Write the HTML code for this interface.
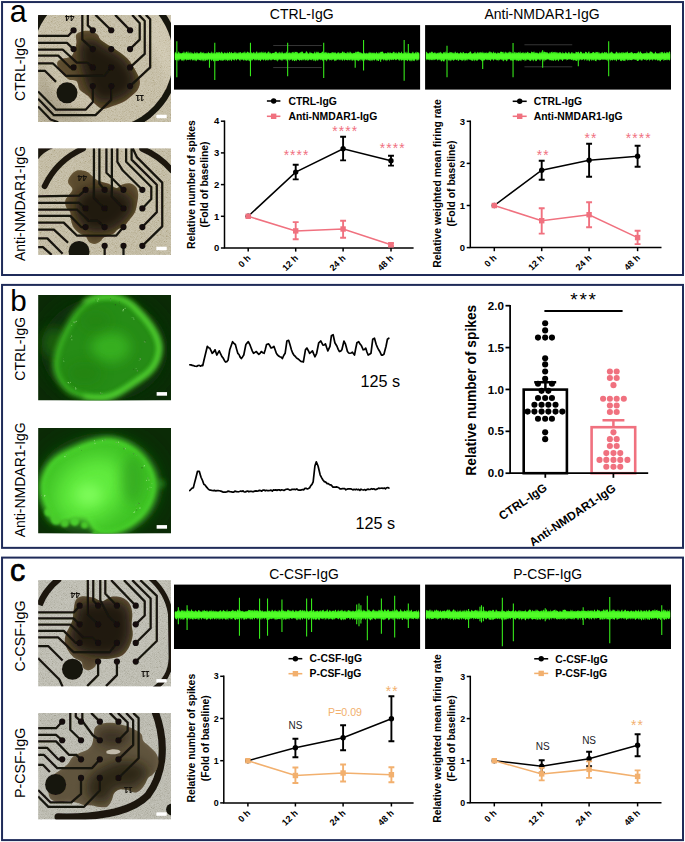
<!DOCTYPE html>
<html><head><meta charset="utf-8"><title>figure</title>
<style>
html,body{margin:0;padding:0;background:#fff;}
body{width:685px;height:842px;overflow:hidden;position:relative;font-family:"Liberation Sans",sans-serif;}
svg{position:absolute;left:0;top:0;display:block}
text{font-family:"Liberation Sans",sans-serif;}
.b{font-weight:bold}
</style></head><body>
<svg width="685" height="842" viewBox="0 0 685 842">
<defs>
<filter id="bl1" x="-20%" y="-20%" width="140%" height="140%"><feGaussianBlur stdDeviation="1"/></filter>
<filter id="bl2" x="-20%" y="-20%" width="140%" height="140%"><feGaussianBlur stdDeviation="2"/></filter>
<filter id="bl3" x="-20%" y="-20%" width="140%" height="140%"><feGaussianBlur stdDeviation="3.2"/></filter>
<filter id="bl5" x="-30%" y="-30%" width="160%" height="160%"><feGaussianBlur stdDeviation="6"/></filter>
<filter id="bl05" x="-10%" y="-10%" width="120%" height="120%"><feGaussianBlur stdDeviation="0.45"/></filter>
<filter id="zb5" x="-20%" y="-20%" width="140%" height="140%"><feGaussianBlur stdDeviation="3.2"/></filter>
<filter id="zb12" x="-30%" y="-30%" width="160%" height="160%"><feGaussianBlur stdDeviation="12"/></filter>
<filter id="zb28" x="-50%" y="-50%" width="200%" height="200%"><feGaussianBlur stdDeviation="24"/></filter>
<filter id="grain" x="0" y="0" width="100%" height="100%"><feTurbulence type="fractalNoise" baseFrequency="1.2" numOctaves="2" seed="7" result="n"/><feColorMatrix in="n" type="matrix" values="1.8 0 0 0 -0.4  1.8 0 0 0 -0.4  1.8 0 0 0 -0.4  0 0 0 0 1"/></filter>
<filter id="grain2" x="0" y="0" width="100%" height="100%"><feTurbulence type="fractalNoise" baseFrequency="0.22" numOctaves="3" seed="4" result="n"/><feColorMatrix in="n" type="matrix" values="2.2 0 0 0 -0.6  2.2 0 0 0 -0.6  2.2 0 0 0 -0.6  0 0 0 0 1"/></filter>
</defs>
<rect x="2.05" y="2.05" width="680.95" height="272.95" fill="#fff" stroke="#1f2b59" stroke-width="2"/>
<rect x="2.05" y="284.9" width="680.95" height="262.95" fill="#fff" stroke="#1f2b59" stroke-width="2"/>
<rect x="2.05" y="557.6" width="680.95" height="282.5" fill="#fff" stroke="#1f2b59" stroke-width="2"/>
<g id="pa">
<text x="9.7" y="22" font-size="30.5" text-anchor="start" fill="#000">a</text>
<text x="25.1" y="69" font-size="14" text-anchor="middle" fill="#000" transform="rotate(-90 25.1 69)">CTRL-IgG</text>
<text x="25.1" y="203.5" font-size="14" text-anchor="middle" fill="#000" transform="rotate(-90 25.1 203.5)">Anti-NMDAR1-IgG</text>
<text x="301.7" y="19.2" font-size="14" text-anchor="middle" fill="#000">CTRL-IgG</text>
<text x="542" y="19.2" font-size="14" text-anchor="middle" fill="#000">Anti-NMDAR1-IgG</text>
<g transform="translate(38.1 14.9)">
<clipPath id="cp1"><rect x="0" y="0" width="132.9" height="107.2"/></clipPath>
<g clip-path="url(#cp1)">
<rect x="0" y="0" width="132.9" height="107.2" fill="#bfb79d"/>
<rect x="0" y="0" width="132.9" height="107.2" filter="url(#grain)" opacity="0.24" style="mix-blend-mode:overlay"/>
<path d="M133 0 L90 0 Q120 30 133 80Z" fill="#ece6d2" opacity="0.25" filter="url(#bl3)"/>
<path d="M0 107 L0 40 Q10 90 60 107Z" fill="#6a6048" opacity="0.3" filter="url(#bl5)"/>
<path d="M99.3 -21.8 A73.4 73.4 0 0 1 80.1 114.8 M-5.0 20.3 A73.4 73.4 0 0 1 42.1 -26.8" fill="none" stroke="#17140e" stroke-width="6.2" filter="url(#bl05)"/>
<path d="M0 0 H6 L0 7Z" fill="#17140e"/>
<g transform="scale(0.21896) translate(-38 -22)">
<clipPath id="bc1"><path d="M213.47 110.67 C221.25 101.8 244.59 95.11 260.14 94.8 C275.7 94.49 295.61 101.49 306.81 108.8 C318.01 116.12 311.79 125.92 327.35 138.67 C342.9 151.43 380.24 171.34 400.15 185.34 C420.06 199.34 432.82 207.12 446.82 222.68 C460.82 238.23 474.82 261.57 484.15 278.68 C493.49 295.79 501.26 311.35 502.82 325.35 C504.38 339.35 499.71 351.79 493.49 362.68 C487.26 373.57 476.37 381.35 465.49 390.68 C454.6 400.02 442.15 410.91 428.15 418.68 C414.15 426.46 397.04 431.91 381.48 437.35 C365.93 442.8 348.04 452.13 334.81 451.35 C321.59 450.57 312.26 441.24 302.14 432.68 C292.03 424.13 282.7 408.57 274.14 400.02 C265.59 391.46 258.59 387.57 250.81 381.35 C243.03 375.13 233.7 372.02 227.47 362.68 C221.25 353.35 222.03 333.12 213.47 325.35 C204.92 317.57 188.58 323.79 176.14 316.01 C163.69 308.23 147.36 291.12 138.8 278.68 C130.25 266.23 123.25 250.68 124.8 241.34 C126.36 232.01 138.03 227.34 148.14 222.68 C158.25 218.01 176.14 219.56 185.47 213.34 C194.81 207.12 199.47 196.23 204.14 185.34 C208.81 174.45 211.92 160.45 213.47 148.01 C215.03 135.56 205.7 119.54 213.47 110.67 Z"/></clipPath>
<path d="M213.47 110.67 C221.25 101.8 244.59 95.11 260.14 94.8 C275.7 94.49 295.61 101.49 306.81 108.8 C318.01 116.12 311.79 125.92 327.35 138.67 C342.9 151.43 380.24 171.34 400.15 185.34 C420.06 199.34 432.82 207.12 446.82 222.68 C460.82 238.23 474.82 261.57 484.15 278.68 C493.49 295.79 501.26 311.35 502.82 325.35 C504.38 339.35 499.71 351.79 493.49 362.68 C487.26 373.57 476.37 381.35 465.49 390.68 C454.6 400.02 442.15 410.91 428.15 418.68 C414.15 426.46 397.04 431.91 381.48 437.35 C365.93 442.8 348.04 452.13 334.81 451.35 C321.59 450.57 312.26 441.24 302.14 432.68 C292.03 424.13 282.7 408.57 274.14 400.02 C265.59 391.46 258.59 387.57 250.81 381.35 C243.03 375.13 233.7 372.02 227.47 362.68 C221.25 353.35 222.03 333.12 213.47 325.35 C204.92 317.57 188.58 323.79 176.14 316.01 C163.69 308.23 147.36 291.12 138.8 278.68 C130.25 266.23 123.25 250.68 124.8 241.34 C126.36 232.01 138.03 227.34 148.14 222.68 C158.25 218.01 176.14 219.56 185.47 213.34 C194.81 207.12 199.47 196.23 204.14 185.34 C208.81 174.45 211.92 160.45 213.47 148.01 C215.03 135.56 205.7 119.54 213.47 110.67 Z" fill="#6b5836" opacity="0.92" filter="url(#zb5)"/>
<g clip-path="url(#bc1)"><path d="M213.47 110.67 C221.25 101.8 244.59 95.11 260.14 94.8 C275.7 94.49 295.61 101.49 306.81 108.8 C318.01 116.12 311.79 125.92 327.35 138.67 C342.9 151.43 380.24 171.34 400.15 185.34 C420.06 199.34 432.82 207.12 446.82 222.68 C460.82 238.23 474.82 261.57 484.15 278.68 C493.49 295.79 501.26 311.35 502.82 325.35 C504.38 339.35 499.71 351.79 493.49 362.68 C487.26 373.57 476.37 381.35 465.49 390.68 C454.6 400.02 442.15 410.91 428.15 418.68 C414.15 426.46 397.04 431.91 381.48 437.35 C365.93 442.8 348.04 452.13 334.81 451.35 C321.59 450.57 312.26 441.24 302.14 432.68 C292.03 424.13 282.7 408.57 274.14 400.02 C265.59 391.46 258.59 387.57 250.81 381.35 C243.03 375.13 233.7 372.02 227.47 362.68 C221.25 353.35 222.03 333.12 213.47 325.35 C204.92 317.57 188.58 323.79 176.14 316.01 C163.69 308.23 147.36 291.12 138.8 278.68 C130.25 266.23 123.25 250.68 124.8 241.34 C126.36 232.01 138.03 227.34 148.14 222.68 C158.25 218.01 176.14 219.56 185.47 213.34 C194.81 207.12 199.47 196.23 204.14 185.34 C208.81 174.45 211.92 160.45 213.47 148.01 C215.03 135.56 205.7 119.54 213.47 110.67 Z" fill="#4a3a22" opacity="0.55" filter="url(#zb12)"/></g>
<g clip-path="url(#bc1)"><path d="M241.48 138.67 C253.14 129.34 280.37 133.23 297.48 138.67 C314.59 144.12 325.48 159.67 344.15 171.34 C362.81 183.01 390.82 193.9 409.48 208.67 C428.15 223.45 444.48 242.12 456.15 260.01 C467.82 277.9 477.93 298.12 479.49 316.01 C481.04 333.9 475.6 353.35 465.49 367.35 C455.37 381.35 435.93 391.46 418.82 400.02 C401.7 408.57 379.93 415.57 362.81 418.68 C345.7 421.8 329.37 424.91 316.15 418.68 C302.92 412.46 292.81 393.79 283.48 381.35 C274.14 368.9 266.37 358.01 260.14 344.01 C253.92 330.01 250.81 312.9 246.14 297.35 C241.48 281.79 235.25 267.79 232.14 250.68 C229.03 233.56 225.92 213.34 227.47 194.67 C229.03 176.01 229.81 148.01 241.48 138.67 Z" fill="#1f170c" opacity="0.92" filter="url(#zb28)"/></g>
</g>
<path d="M35.47 15.33 L30 21.02 L0 21.02 M35.47 34.16 L28.9 28.03 L0 28.03 M54.74 52.55 L49.05 47.73 L38.76 47.73 L24.52 34.6 L0 34.6 M35.47 52.55 L32.19 52.55 L20.14 40.73 L0 40.73 M73.13 52.55 L66.13 60.87 L27.81 60.87 L14.67 48.39 L0 48.39 M0 56.05 L7.01 56.05 L17.95 67 M0 76.64 L17.95 94.81 L47.51 94.81 L54.74 87.15 L54.74 71.16 M0 83.86 L15.77 100.28 L57.37 100.28 L73.13 84.96 L73.13 71.16 M0 91.53 L12.48 104.66 L20.14 107.29 M54.74 34.16 L44.23 24.74 L44.23 0 M54.74 15.33 L49.7 10.51 L49.7 0 M73.13 15.33 L57.37 0 M91.96 15.33 L77.07 0 M91.96 34.16 L101.6 24.74 L101.6 8.32 L94.15 0 M91.96 52.55 L106.63 38.98 L106.63 6.13 L100.72 0 M91.96 71.16 L112.11 52.55 L112.11 4.38 L107.73 0 " fill="none" stroke="#17130d" stroke-width="2.25" stroke-linejoin="round" filter="url(#bl05)"/>
<circle cx="35.47" cy="15.33" r="3.1" fill="#120f0b" filter="url(#bl05)"/>
<circle cx="54.74" cy="15.33" r="3.1" fill="#120f0b" filter="url(#bl05)"/>
<circle cx="73.13" cy="15.33" r="3.1" fill="#120f0b" filter="url(#bl05)"/>
<circle cx="91.96" cy="15.33" r="3.1" fill="#120f0b" filter="url(#bl05)"/>
<circle cx="35.47" cy="34.16" r="3.1" fill="#120f0b" filter="url(#bl05)"/>
<circle cx="54.74" cy="34.16" r="3.1" fill="#120f0b" filter="url(#bl05)"/>
<circle cx="73.13" cy="34.16" r="3.1" fill="#120f0b" filter="url(#bl05)"/>
<circle cx="91.96" cy="34.16" r="3.1" fill="#120f0b" filter="url(#bl05)"/>
<circle cx="35.47" cy="52.55" r="3.1" fill="#120f0b" filter="url(#bl05)"/>
<circle cx="54.74" cy="52.55" r="3.1" fill="#120f0b" filter="url(#bl05)"/>
<circle cx="73.13" cy="52.55" r="3.1" fill="#120f0b" filter="url(#bl05)"/>
<circle cx="91.96" cy="52.55" r="3.1" fill="#120f0b" filter="url(#bl05)"/>
<circle cx="54.74" cy="71.16" r="3.1" fill="#120f0b" filter="url(#bl05)"/>
<circle cx="73.13" cy="71.16" r="3.1" fill="#120f0b" filter="url(#bl05)"/>
<circle cx="91.96" cy="71.16" r="3.1" fill="#120f0b" filter="url(#bl05)"/>
<circle cx="28.9" cy="77.95" r="10.51" fill="#17130d" filter="url(#bl05)"/>
<text x="31.75" y="0" font-size="8.4" class="b" fill="#15120d" text-anchor="middle" transform="rotate(180 31.75 0)">44</text>
<text x="101.82" y="80.58" font-size="8.4" class="b" fill="#15120d" text-anchor="middle" transform="rotate(180 101.82 80.58)">11</text>
</g>
<rect x="118.24" y="99.85" width="10.4" height="3.5" fill="#fff"/>
</g>
<g transform="translate(38.1 148.2)">
<clipPath id="cp2"><rect x="0" y="0" width="132.9" height="106.7"/></clipPath>
<g clip-path="url(#cp2)">
<rect x="0" y="0" width="132.9" height="106.7" fill="#bdb59b"/>
<rect x="0" y="0" width="132.9" height="106.7" filter="url(#grain)" opacity="0.24" style="mix-blend-mode:overlay"/>
<path d="M6.5 38 A78 78 0 0 1 45 0.5 M104 0.5 A78 78 0 0 1 133.5 22" fill="none" stroke="#1a1610" stroke-width="5.8" stroke-linecap="round" filter="url(#bl05)"/>
<path d="M0 0 H15 Q6 3 0 11Z" fill="#1a1610" filter="url(#bl05)"/>
<g transform="scale(0.21896) translate(-38 -38)">
<clipPath id="bc2"><path d="M185 165 C191.67 155.83 202.5 143.33 215 140 C227.5 136.67 248.33 140.83 260 145 C271.67 149.17 276.67 158.33 285 165 C293.33 171.67 297.5 179.17 310 185 C322.5 190.83 345.83 194.17 360 200 C374.17 205.83 385 219.17 395 220 C405 220.83 410 208.67 420 205 C430 201.33 444.17 196.33 455 198 C465.83 199.67 478.33 206.33 485 215 C491.67 223.67 494.17 237.5 495 250 C495.83 262.5 492.5 276.67 490 290 C487.5 303.33 485.83 317.5 480 330 C474.17 342.5 463.33 354.17 455 365 C446.67 375.83 439.17 387.5 430 395 C420.83 402.5 408.33 404.17 400 410 C391.67 415.83 390 424.17 380 430 C370 435.83 350 439.17 340 445 C330 450.83 327.5 460 320 465 C312.5 470 303.33 475 295 475 C286.67 475 276.67 470.83 270 465 C263.33 459.17 262.5 446.67 255 440 C247.5 433.33 234.17 431.67 225 425 C215.83 418.33 206.17 410 200 400 C193.83 390 190.5 376.67 188 365 C185.5 353.33 188.83 340 185 330 C181.17 320 168.67 314.17 165 305 C161.33 295.83 160.5 284.17 163 275 C165.5 265.83 174.67 258.33 180 250 C185.33 241.67 195.83 234.17 195 225 C194.17 215.83 176.67 205 175 195 C173.33 185 178.33 174.17 185 165 Z"/></clipPath>
<path d="M185 165 C191.67 155.83 202.5 143.33 215 140 C227.5 136.67 248.33 140.83 260 145 C271.67 149.17 276.67 158.33 285 165 C293.33 171.67 297.5 179.17 310 185 C322.5 190.83 345.83 194.17 360 200 C374.17 205.83 385 219.17 395 220 C405 220.83 410 208.67 420 205 C430 201.33 444.17 196.33 455 198 C465.83 199.67 478.33 206.33 485 215 C491.67 223.67 494.17 237.5 495 250 C495.83 262.5 492.5 276.67 490 290 C487.5 303.33 485.83 317.5 480 330 C474.17 342.5 463.33 354.17 455 365 C446.67 375.83 439.17 387.5 430 395 C420.83 402.5 408.33 404.17 400 410 C391.67 415.83 390 424.17 380 430 C370 435.83 350 439.17 340 445 C330 450.83 327.5 460 320 465 C312.5 470 303.33 475 295 475 C286.67 475 276.67 470.83 270 465 C263.33 459.17 262.5 446.67 255 440 C247.5 433.33 234.17 431.67 225 425 C215.83 418.33 206.17 410 200 400 C193.83 390 190.5 376.67 188 365 C185.5 353.33 188.83 340 185 330 C181.17 320 168.67 314.17 165 305 C161.33 295.83 160.5 284.17 163 275 C165.5 265.83 174.67 258.33 180 250 C185.33 241.67 195.83 234.17 195 225 C194.17 215.83 176.67 205 175 195 C173.33 185 178.33 174.17 185 165 Z" fill="#6b5836" opacity="0.92" filter="url(#zb5)"/>
<g clip-path="url(#bc2)"><path d="M185 165 C191.67 155.83 202.5 143.33 215 140 C227.5 136.67 248.33 140.83 260 145 C271.67 149.17 276.67 158.33 285 165 C293.33 171.67 297.5 179.17 310 185 C322.5 190.83 345.83 194.17 360 200 C374.17 205.83 385 219.17 395 220 C405 220.83 410 208.67 420 205 C430 201.33 444.17 196.33 455 198 C465.83 199.67 478.33 206.33 485 215 C491.67 223.67 494.17 237.5 495 250 C495.83 262.5 492.5 276.67 490 290 C487.5 303.33 485.83 317.5 480 330 C474.17 342.5 463.33 354.17 455 365 C446.67 375.83 439.17 387.5 430 395 C420.83 402.5 408.33 404.17 400 410 C391.67 415.83 390 424.17 380 430 C370 435.83 350 439.17 340 445 C330 450.83 327.5 460 320 465 C312.5 470 303.33 475 295 475 C286.67 475 276.67 470.83 270 465 C263.33 459.17 262.5 446.67 255 440 C247.5 433.33 234.17 431.67 225 425 C215.83 418.33 206.17 410 200 400 C193.83 390 190.5 376.67 188 365 C185.5 353.33 188.83 340 185 330 C181.17 320 168.67 314.17 165 305 C161.33 295.83 160.5 284.17 163 275 C165.5 265.83 174.67 258.33 180 250 C185.33 241.67 195.83 234.17 195 225 C194.17 215.83 176.67 205 175 195 C173.33 185 178.33 174.17 185 165 Z" fill="#4a3a22" opacity="0.55" filter="url(#zb12)"/></g>
<g clip-path="url(#bc2)"><path d="M240 240 C254.17 231.67 278.33 222.5 300 220 C321.67 217.5 348.33 221.67 370 225 C391.67 228.33 413.33 230.83 430 240 C446.67 249.17 465 265 470 280 C475 295 468.33 313.33 460 330 C451.67 346.67 435 366.67 420 380 C405 393.33 388.33 403.33 370 410 C351.67 416.67 328.33 420 310 420 C291.67 420 274.17 418.33 260 410 C245.83 401.67 233.33 385 225 370 C216.67 355 211.67 336.67 210 320 C208.33 303.33 210 283.33 215 270 C220 256.67 225.83 248.33 240 240 Z" fill="#1f170c" opacity="0.92" filter="url(#zb28)"/></g>
</g>
<path d="M47.51 41.6 L40.95 47.51 L0 48.17 M47.51 60.21 L40.95 54.74 L0 54.74 M66.56 78.83 L59.56 72.7 L50.8 72.7 L38.76 61.31 L0 61.31 M47.51 78.83 L43.14 78.83 L32.19 67.66 L0 67.66 M85.4 78.83 L78.17 87.37 L38.76 87.37 L25.62 74.45 L0 74.45 M0 81.45 L15.77 81.45 L30 94.59 M0 90.21 L9.2 90.21 L24.52 105.54 M0 98.97 L4.82 98.97 L13.58 106.63 M66.56 97.66 L66.56 107.73 M85.4 97.66 L85.4 107.73 M66.56 60.21 L55.84 49.7 L55.84 0 M66.56 41.6 L61.31 35.47 L61.31 0 M85.4 41.6 L68.32 24.52 L68.32 0 M85.4 60.21 L73.79 48.61 L73.79 0 M104.23 41.6 L84.74 22.33 L79.26 13.58 L79.26 0 M104.23 60.21 L113.2 50.8 L113.2 38.76 L88.02 13.58 L88.02 0 M104.23 78.83 L118.68 63.94 L118.68 36.57 L93.5 11.39 L93.5 0 M104.23 97.66 L124.15 78.17 L124.15 34.38 L98.97 9.2 L94.59 0 " fill="none" stroke="#17130d" stroke-width="2.25" stroke-linejoin="round" filter="url(#bl05)"/>
<circle cx="47.51" cy="41.6" r="3.1" fill="#120f0b" filter="url(#bl05)"/>
<circle cx="66.56" cy="41.6" r="3.1" fill="#120f0b" filter="url(#bl05)"/>
<circle cx="85.4" cy="41.6" r="3.1" fill="#120f0b" filter="url(#bl05)"/>
<circle cx="104.23" cy="41.6" r="3.1" fill="#120f0b" filter="url(#bl05)"/>
<circle cx="47.51" cy="60.21" r="3.1" fill="#120f0b" filter="url(#bl05)"/>
<circle cx="66.56" cy="60.21" r="3.1" fill="#120f0b" filter="url(#bl05)"/>
<circle cx="85.4" cy="60.21" r="3.1" fill="#120f0b" filter="url(#bl05)"/>
<circle cx="104.23" cy="60.21" r="3.1" fill="#120f0b" filter="url(#bl05)"/>
<circle cx="47.51" cy="78.83" r="3.1" fill="#120f0b" filter="url(#bl05)"/>
<circle cx="66.56" cy="78.83" r="3.1" fill="#120f0b" filter="url(#bl05)"/>
<circle cx="85.4" cy="78.83" r="3.1" fill="#120f0b" filter="url(#bl05)"/>
<circle cx="104.23" cy="78.83" r="3.1" fill="#120f0b" filter="url(#bl05)"/>
<circle cx="66.56" cy="97.66" r="3.1" fill="#120f0b" filter="url(#bl05)"/>
<circle cx="85.4" cy="97.66" r="3.1" fill="#120f0b" filter="url(#bl05)"/>
<circle cx="104.23" cy="97.66" r="3.1" fill="#120f0b" filter="url(#bl05)"/>
<circle cx="40.95" cy="103.35" r="10.51" fill="#17130d" filter="url(#bl05)"/>
<text x="44.23" y="26.71" font-size="8.4" class="b" fill="#15120d" text-anchor="middle" transform="rotate(180 44.23 26.71)">44</text>
</g>
<rect x="118.24" y="98.53" width="10.4" height="3.5" fill="#fff"/>
</g>
<g>
<rect x="174" y="25.1" width="246.1" height="64.5" fill="#000"/>
<path d="M273.23 45.54 H321.8" stroke="#5a5a5a" stroke-width="0.6"/>
<path d="M273.23 67.55 H321.8" stroke="#5a5a5a" stroke-width="0.6"/>
<path d="M176.83 41.22 V77.27 M214.78 42.74 V79.93 M209.47 53.36 V67.79 M250.46 42.74 V76.13 M287.65 42.74 V76.13 M323.7 42.74 V78.03 M355.2 53.36 V67.79 M363.55 40.08 V70.44 M404.16 40.08 V80.69 M408.33 43.88 V59.44 M380.63 52.6 V61.71 M268.67 51.85 V60.2 " stroke="#36e81a" stroke-width="1.1" fill="none"/>
<path d="M174.8 52.9 L175.3 51.52 L175.8 52.77 L176.3 53.39 L176.8 52.45 L177.29 53.5 L177.79 53.5 L178.29 52.27 L178.79 51.31 L179.29 52.38 L179.79 53.43 L180.29 52.72 L180.79 53.39 L181.29 53.54 L181.79 52.93 L182.28 52.74 L182.78 52.79 L183.28 52.89 L183.78 51.26 L184.28 51.81 L184.78 53.19 L185.28 53.23 L185.78 52.05 L186.28 51.79 L186.78 51.4 L187.27 53.55 L187.77 51.57 L188.27 51.32 L188.77 53.51 L189.27 52.01 L189.77 53.5 L190.27 51.38 L190.77 53.47 L191.27 53.49 L191.77 51.95 L192.26 52.64 L192.76 53.39 L193.26 53.46 L193.76 53.47 L194.26 53.35 L194.76 51.35 L195.26 53.21 L195.76 53.36 L196.26 51.76 L196.76 53.49 L197.25 53.35 L197.75 52.03 L198.25 53.22 L198.75 53.5 L199.25 53.31 L199.75 53.08 L200.25 51.4 L200.75 52.6 L201.25 53.4 L201.74 51.58 L202.24 53.3 L202.74 52.13 L203.24 53.38 L203.74 51.67 L204.24 52.97 L204.74 53.54 L205.24 53.32 L205.74 53.29 L206.24 52.54 L206.73 53.41 L207.23 53.52 L207.73 52.64 L208.23 52.49 L208.73 51.54 L209.23 53.54 L209.73 52.92 L210.23 53.4 L210.73 52.61 L211.23 53.1 L211.72 51.32 L212.22 52.27 L212.72 53.45 L213.22 53.54 L213.72 52.25 L214.22 53.54 L214.72 52.83 L215.22 53.18 L215.72 53.51 L216.22 52.14 L216.71 52.14 L217.21 51.96 L217.71 53.12 L218.21 51.6 L218.71 52.98 L219.21 51.73 L219.71 52.46 L220.21 52.58 L220.71 53.51 L221.21 51.27 L221.7 52.16 L222.2 52.14 L222.7 52.93 L223.2 53.5 L223.7 53.54 L224.2 52.83 L224.7 52.25 L225.2 52.49 L225.7 53.29 L226.19 53.21 L226.69 53.37 L227.19 51.59 L227.69 52.93 L228.19 53.16 L228.69 53.37 L229.19 51.92 L229.69 51.67 L230.19 52.58 L230.69 53.45 L231.18 51.82 L231.68 52.21 L232.18 53.25 L232.68 52.91 L233.18 53.35 L233.68 52.46 L234.18 53.19 L234.68 51.31 L235.18 53.51 L235.68 51.7 L236.17 52.22 L236.67 53.2 L237.17 53.54 L237.67 52.9 L238.17 51.84 L238.67 53.45 L239.17 52.45 L239.67 52.45 L240.17 51.91 L240.67 52.29 L241.16 52.85 L241.66 53.55 L242.16 52.21 L242.66 53.26 L243.16 52.26 L243.66 52.49 L244.16 53.03 L244.66 51.58 L245.16 51.49 L245.66 53.46 L246.15 52.46 L246.65 53.07 L247.15 51.68 L247.65 51.45 L248.15 52.39 L248.65 52.18 L249.15 52.42 L249.65 53.35 L250.15 51.32 L250.64 52.7 L251.14 53.18 L251.64 51.76 L252.14 53.51 L252.64 52.66 L253.14 52.82 L253.64 51.91 L254.14 51.94 L254.64 53.15 L255.14 53.45 L255.63 52.75 L256.13 51.81 L256.63 51.44 L257.13 51.43 L257.63 53.34 L258.13 53.23 L258.63 52.42 L259.13 51.8 L259.63 53.19 L260.13 51.79 L260.62 53.36 L261.12 51.36 L261.62 52.6 L262.12 52.7 L262.62 52.52 L263.12 51.36 L263.62 53.02 L264.12 52.63 L264.62 52.27 L265.12 52.69 L265.61 51.4 L266.11 53.27 L266.61 53.46 L267.11 51.89 L267.61 52.85 L268.11 53.38 L268.61 51.52 L269.11 52 L269.61 53.38 L270.11 52.29 L270.6 53.11 L271.1 53.49 L271.6 53.47 L272.1 53.3 L272.6 52.71 L273.1 53.07 L273.6 52.72 L274.1 53.37 L274.6 52.43 L275.09 51.77 L275.59 51.75 L276.09 52.12 L276.59 51.6 L277.09 53.19 L277.59 53.35 L278.09 51.65 L278.59 53.31 L279.09 53.28 L279.59 51.83 L280.08 51.97 L280.58 53.01 L281.08 53.54 L281.58 52.3 L282.08 51.36 L282.58 52.78 L283.08 52.78 L283.58 53.39 L284.08 53.48 L284.58 52.66 L285.07 52.62 L285.57 53.39 L286.07 51.81 L286.57 51.51 L287.07 53.52 L287.57 52.88 L288.07 53.16 L288.57 52.75 L289.07 52.53 L289.57 52.25 L290.06 53.4 L290.56 52.13 L291.06 53.38 L291.56 52.76 L292.06 51.63 L292.56 52.23 L293.06 52.45 L293.56 52.53 L294.06 51.31 L294.56 53.28 L295.05 52.11 L295.55 51.89 L296.05 51.62 L296.55 52.26 L297.05 52.05 L297.55 52.18 L298.05 53.14 L298.55 53.55 L299.05 52.43 L299.54 53.33 L300.04 52.35 L300.54 52.37 L301.04 52.71 L301.54 51.25 L302.04 52.24 L302.54 51.32 L303.04 52.49 L303.54 53.29 L304.04 53.53 L304.53 53.07 L305.03 53.3 L305.53 52.66 L306.03 51.37 L306.53 51.27 L307.03 51.91 L307.53 52.54 L308.03 53.53 L308.53 53.43 L309.03 53.41 L309.52 52.5 L310.02 51.45 L310.52 52.72 L311.02 53.09 L311.52 52.38 L312.02 53.24 L312.52 53.22 L313.02 53.31 L313.52 53.43 L314.02 53.04 L314.51 52.1 L315.01 51.29 L315.51 53.51 L316.01 52.95 L316.51 51.35 L317.01 52.73 L317.51 52.18 L318.01 51.33 L318.51 52.52 L319.01 52.47 L319.5 53.37 L320 52.72 L320.5 52.92 L321 52.89 L321.5 52.58 L322 52.01 L322.5 51.26 L323 52.14 L323.5 53.48 L323.99 51.99 L324.49 53.1 L324.99 52.29 L325.49 52.55 L325.99 52.09 L326.49 53.3 L326.99 51.55 L327.49 53.53 L327.99 53.26 L328.49 52.47 L328.98 52.69 L329.48 53.5 L329.98 52.66 L330.48 53.07 L330.98 53.36 L331.48 52.11 L331.98 53.51 L332.48 51.91 L332.98 52.04 L333.48 52.96 L333.97 51.91 L334.47 52.38 L334.97 53.17 L335.47 52.11 L335.97 52.96 L336.47 53.49 L336.97 53.51 L337.47 52.63 L337.97 52.29 L338.47 52.02 L338.96 53.35 L339.46 53.51 L339.96 52.17 L340.46 53.24 L340.96 53.1 L341.46 53.09 L341.96 52.22 L342.46 51.54 L342.96 51.56 L343.46 51.93 L343.95 53.18 L344.45 51.48 L344.95 53.3 L345.45 53.09 L345.95 53.03 L346.45 53.38 L346.95 51.95 L347.45 51.82 L347.95 53.4 L348.44 51.67 L348.94 53.54 L349.44 52.68 L349.94 51.37 L350.44 51.92 L350.94 52.67 L351.44 53.5 L351.94 52.14 L352.44 53.5 L352.94 53.44 L353.43 52.4 L353.93 53.34 L354.43 52.74 L354.93 53.03 L355.43 51.36 L355.93 52.8 L356.43 52.19 L356.93 51.55 L357.43 51.85 L357.93 51.76 L358.42 51.83 L358.92 51.4 L359.42 52.73 L359.92 51.93 L360.42 52.97 L360.92 52.12 L361.42 53.07 L361.92 53.37 L362.42 53.23 L362.92 53.52 L363.41 53.48 L363.91 52.02 L364.41 53.52 L364.91 52.58 L365.41 53.54 L365.91 53.39 L366.41 53.32 L366.91 52.55 L367.41 53.39 L367.91 53.41 L368.4 53.19 L368.9 51.88 L369.4 53.28 L369.9 51.56 L370.4 52.67 L370.9 52.83 L371.4 53.53 L371.9 51.93 L372.4 52.72 L372.89 53.26 L373.39 52.37 L373.89 53.55 L374.39 53.08 L374.89 52.21 L375.39 53.43 L375.89 53.17 L376.39 51.71 L376.89 52.43 L377.39 53.27 L377.88 53.44 L378.38 53.55 L378.88 51.79 L379.38 53.51 L379.88 52.2 L380.38 52.84 L380.88 51.41 L381.38 51.75 L381.88 51.97 L382.38 51.55 L382.87 51.85 L383.37 52.68 L383.87 53.43 L384.37 53.19 L384.87 53.51 L385.37 52.87 L385.87 53.1 L386.37 53.48 L386.87 52.88 L387.37 51.84 L387.86 53.55 L388.36 52.22 L388.86 52.63 L389.36 53.55 L389.86 51.94 L390.36 52.49 L390.86 53.07 L391.36 53.22 L391.86 53.03 L392.36 53.29 L392.85 52.15 L393.35 51.45 L393.85 52.18 L394.35 51.85 L394.85 53.45 L395.35 52.31 L395.85 53.4 L396.35 51.82 L396.85 53.5 L397.34 53.43 L397.84 53 L398.34 51.53 L398.84 52.76 L399.34 52.04 L399.84 53.05 L400.34 52.99 L400.84 53.02 L401.34 51.31 L401.84 52.36 L402.33 53.54 L402.83 53.13 L403.33 53.48 L403.83 52.77 L404.33 51.86 L404.83 53.43 L405.33 51.59 L405.83 53.11 L406.33 53.45 L406.83 51.3 L407.32 52.2 L407.82 53.38 L408.32 52.46 L408.82 53.5 L409.32 52.6 L409.82 53.16 L410.32 53.1 L410.82 53.47 L411.32 53.45 L411.82 52.68 L412.31 52.64 L412.81 51.57 L413.31 51.88 L413.81 53.47 L414.31 53.23 L414.81 53.31 L415.31 51.84 L415.81 52.67 L416.31 53.54 L416.81 51.3 L417.3 52.37 L417.8 52.33 L418.3 53.06 L418.8 51.93 L419.3 53.37 L419.3 59.93 L418.8 59.26 L418.3 60.25 L417.8 60.67 L417.3 59.6 L416.81 61.33 L416.31 59.4 L415.81 59.29 L415.31 59.41 L414.81 60.2 L414.31 61.18 L413.81 60.94 L413.31 60.27 L412.81 61.52 L412.31 59.53 L411.82 60.16 L411.32 61.21 L410.82 61.46 L410.32 59.92 L409.82 61.3 L409.32 60.54 L408.82 59.49 L408.32 59.42 L407.82 61.35 L407.32 60.98 L406.83 60.05 L406.33 60.59 L405.83 60.01 L405.33 60.13 L404.83 60.75 L404.33 60.3 L403.83 60.82 L403.33 59.74 L402.83 60.41 L402.33 59.64 L401.84 60.29 L401.34 60.83 L400.84 60.55 L400.34 59.25 L399.84 59.64 L399.34 60.93 L398.84 60.4 L398.34 59.84 L397.84 59.29 L397.34 59.33 L396.85 59.47 L396.35 60.25 L395.85 59.79 L395.35 60.58 L394.85 59.3 L394.35 59.3 L393.85 59.65 L393.35 60.17 L392.85 59.64 L392.36 59.43 L391.86 60.45 L391.36 59.66 L390.86 60.11 L390.36 59.57 L389.86 59.44 L389.36 61.52 L388.86 59.91 L388.36 59.48 L387.86 59.74 L387.37 60.42 L386.87 61.43 L386.37 59.77 L385.87 60.51 L385.37 60.6 L384.87 59.6 L384.37 59.61 L383.87 60.97 L383.37 60.07 L382.87 59.44 L382.38 59.3 L381.88 59.82 L381.38 59.59 L380.88 60.23 L380.38 59.94 L379.88 59.31 L379.38 59.53 L378.88 60.93 L378.38 60.93 L377.88 60.77 L377.39 60.1 L376.89 61.53 L376.39 60.05 L375.89 59.52 L375.39 59.37 L374.89 60.28 L374.39 60.85 L373.89 59.95 L373.39 59.48 L372.89 61.52 L372.4 60.05 L371.9 59.75 L371.4 61.36 L370.9 59.46 L370.4 61.4 L369.9 59.67 L369.4 61.15 L368.9 59.96 L368.4 60.13 L367.91 60.73 L367.41 59.55 L366.91 59.46 L366.41 60.6 L365.91 59.45 L365.41 59.32 L364.91 61.23 L364.41 59.91 L363.91 59.4 L363.41 60.4 L362.92 59.6 L362.42 61.44 L361.92 59.84 L361.42 59.38 L360.92 61.52 L360.42 59.36 L359.92 59.83 L359.42 60.58 L358.92 60.38 L358.42 61.16 L357.93 60.88 L357.43 60.45 L356.93 59.81 L356.43 60.58 L355.93 60.1 L355.43 60.47 L354.93 59.66 L354.43 60.75 L353.93 60.75 L353.43 59.5 L352.94 60.69 L352.44 60.36 L351.94 61.19 L351.44 59.29 L350.94 60.82 L350.44 59.28 L349.94 60.41 L349.44 60.18 L348.94 60.05 L348.44 59.55 L347.95 60.73 L347.45 60.17 L346.95 60.11 L346.45 60.17 L345.95 59.76 L345.45 59.71 L344.95 59.7 L344.45 61.18 L343.95 59.78 L343.46 59.6 L342.96 59.87 L342.46 61.33 L341.96 60.19 L341.46 59.33 L340.96 60.63 L340.46 59.35 L339.96 60.53 L339.46 59.59 L338.96 60.44 L338.47 59.29 L337.97 59.59 L337.47 59.97 L336.97 59.29 L336.47 61.11 L335.97 59.72 L335.47 61.27 L334.97 60.13 L334.47 61.51 L333.97 59.72 L333.48 59.52 L332.98 59.45 L332.48 60.33 L331.98 59.33 L331.48 60.99 L330.98 59.67 L330.48 59.96 L329.98 60.35 L329.48 60.48 L328.98 59.29 L328.49 59.31 L327.99 59.84 L327.49 59.28 L326.99 61.12 L326.49 61.48 L325.99 59.41 L325.49 60.36 L324.99 60.17 L324.49 59.54 L323.99 60.34 L323.5 61.17 L323 59.48 L322.5 61.38 L322 60.09 L321.5 59.82 L321 59.52 L320.5 60.46 L320 59.33 L319.5 59.27 L319.01 59.91 L318.51 59.32 L318.01 60.92 L317.51 59.94 L317.01 61.33 L316.51 59.49 L316.01 59.96 L315.51 61.21 L315.01 61.35 L314.51 59.27 L314.02 61.19 L313.52 60.72 L313.02 59.27 L312.52 59.25 L312.02 60.6 L311.52 60.16 L311.02 59.56 L310.52 60.26 L310.02 59.83 L309.52 59.28 L309.03 60 L308.53 59.94 L308.03 61.3 L307.53 60.73 L307.03 59.29 L306.53 60.37 L306.03 60.18 L305.53 60.03 L305.03 61.21 L304.53 59.31 L304.04 59.42 L303.54 59.79 L303.04 60.67 L302.54 59.26 L302.04 60.74 L301.54 60.38 L301.04 59.76 L300.54 60.19 L300.04 59.66 L299.54 61.35 L299.05 60.33 L298.55 59.69 L298.05 59.94 L297.55 59.29 L297.05 59.8 L296.55 60.76 L296.05 61.13 L295.55 59.79 L295.05 60.79 L294.56 61.23 L294.06 60.88 L293.56 60.02 L293.06 59.79 L292.56 61.06 L292.06 60.87 L291.56 59.25 L291.06 59.38 L290.56 59.79 L290.06 59.9 L289.57 61.01 L289.07 59.25 L288.57 59.85 L288.07 59.93 L287.57 60.75 L287.07 61.38 L286.57 59.31 L286.07 61.52 L285.57 59.43 L285.07 59.36 L284.58 60.05 L284.08 59.26 L283.58 59.29 L283.08 60.51 L282.58 60.73 L282.08 59.32 L281.58 61.23 L281.08 59.43 L280.58 60.51 L280.08 59.34 L279.59 59.83 L279.09 59.31 L278.59 60.63 L278.09 59.34 L277.59 61.55 L277.09 61.27 L276.59 59.62 L276.09 60.9 L275.59 59.48 L275.09 60.3 L274.6 60.08 L274.1 60.35 L273.6 59.37 L273.1 59.81 L272.6 59.86 L272.1 59.42 L271.6 60.04 L271.1 60.64 L270.6 60.32 L270.11 59.63 L269.61 59.47 L269.11 59.26 L268.61 59.34 L268.11 60.32 L267.61 59.62 L267.11 61.2 L266.61 59.86 L266.11 59.95 L265.61 61.28 L265.12 59.81 L264.62 59.28 L264.12 59.99 L263.62 60.86 L263.12 60.05 L262.62 59.26 L262.12 60.02 L261.62 59.43 L261.12 60.07 L260.62 61.03 L260.13 61.2 L259.63 59.74 L259.13 60.16 L258.63 60.07 L258.13 60.64 L257.63 60.08 L257.13 59.3 L256.63 59.99 L256.13 60.52 L255.63 60.62 L255.14 59.36 L254.64 60.82 L254.14 59.39 L253.64 59.28 L253.14 59.26 L252.64 60.76 L252.14 59.87 L251.64 59.68 L251.14 61.23 L250.64 60.83 L250.15 61.47 L249.65 61.2 L249.15 60.6 L248.65 60.92 L248.15 59.43 L247.65 59.92 L247.15 60.85 L246.65 60.18 L246.15 61.23 L245.66 59.9 L245.16 60.62 L244.66 59.3 L244.16 60.84 L243.66 60.72 L243.16 60.06 L242.66 59.67 L242.16 59.4 L241.66 59.94 L241.16 59.4 L240.67 59.43 L240.17 61.4 L239.67 60.42 L239.17 59.89 L238.67 59.27 L238.17 59.48 L237.67 59.26 L237.17 59.35 L236.67 60.83 L236.17 60.19 L235.68 59.27 L235.18 59.26 L234.68 59.9 L234.18 60.99 L233.68 60 L233.18 59.81 L232.68 59.54 L232.18 59.39 L231.68 61.37 L231.18 61.02 L230.69 60 L230.19 59.62 L229.69 59.75 L229.19 61.24 L228.69 59.85 L228.19 60.45 L227.69 61.17 L227.19 60.44 L226.69 59.39 L226.19 60.49 L225.7 59.25 L225.2 61.27 L224.7 60 L224.2 59.47 L223.7 60.27 L223.2 60.7 L222.7 60.99 L222.2 60.22 L221.7 59.76 L221.21 61.13 L220.71 60.38 L220.21 60.29 L219.71 59.75 L219.21 60.2 L218.71 60.83 L218.21 61.1 L217.71 60.51 L217.21 61.25 L216.71 60.56 L216.22 61.2 L215.72 60.13 L215.22 61.55 L214.72 60.64 L214.22 60.37 L213.72 61.42 L213.22 61.23 L212.72 59.26 L212.22 60.23 L211.72 60.43 L211.23 61.16 L210.73 59.34 L210.23 59.72 L209.73 59.28 L209.23 59.53 L208.73 59.43 L208.23 59.55 L207.73 61.03 L207.23 59.47 L206.73 60.61 L206.24 59.58 L205.74 60.94 L205.24 60.57 L204.74 61.42 L204.24 59.31 L203.74 60.28 L203.24 61.37 L202.74 61.34 L202.24 59.41 L201.74 60.92 L201.25 59.37 L200.75 61.08 L200.25 59.97 L199.75 59.9 L199.25 60.27 L198.75 60.22 L198.25 59.29 L197.75 59.64 L197.25 59.52 L196.76 61.51 L196.26 60.38 L195.76 59.77 L195.26 61.14 L194.76 60.87 L194.26 59.53 L193.76 59.83 L193.26 60.39 L192.76 60.65 L192.26 59.89 L191.77 59.4 L191.27 59.28 L190.77 59.5 L190.27 60.73 L189.77 59.65 L189.27 59.53 L188.77 60.35 L188.27 59.78 L187.77 59.94 L187.27 59.44 L186.78 61.02 L186.28 59.75 L185.78 59.78 L185.28 59.28 L184.78 59.47 L184.28 60.58 L183.78 61.54 L183.28 59.55 L182.78 60.44 L182.28 60.38 L181.79 61 L181.29 59.93 L180.79 59.49 L180.29 59.28 L179.79 59.25 L179.29 60.31 L178.79 61.42 L178.29 59.27 L177.79 60.89 L177.29 59.59 L176.8 60.84 L176.3 60.04 L175.8 60.23 L175.3 59.93 L174.8 60.16Z" fill="#3df41c"/>
<path d="M174.8 56.4 H419.3" stroke="#58ff2c" stroke-width="4.14" opacity="0.8"/>
</g>
<g>
<rect x="425.1" y="25.1" width="245.9" height="64.5" fill="#000"/>
<path d="M524.43 44.78 H572.25" stroke="#5a5a5a" stroke-width="0.6"/>
<path d="M524.43 66.79 H572.25" stroke="#5a5a5a" stroke-width="0.6"/>
<path d="M447.01 45.77 V77.27 M482.69 53.36 V68.92 M513.05 43.12 V77.27 M542.65 50.33 V67.79 M578.32 52.6 V66.27 M608.68 41.22 V76.13 M470.54 52.6 V59.44 M637.52 53.36 V60.95 " stroke="#36e81a" stroke-width="1.1" fill="none"/>
<path d="M425.9 51.52 L426.4 51.63 L426.9 52.55 L427.4 52.71 L427.9 53.38 L428.4 53.34 L428.9 53.54 L429.4 52.22 L429.9 52.76 L430.4 53.1 L430.9 51.99 L431.4 52.37 L431.9 51.35 L432.39 52.07 L432.89 52.61 L433.39 53.19 L433.89 52.85 L434.39 52.56 L434.89 52.42 L435.39 53.4 L435.89 51.89 L436.39 53.48 L436.89 53.54 L437.39 52.6 L437.89 53.16 L438.39 53.23 L438.89 52.01 L439.39 53.28 L439.89 51.99 L440.39 51.85 L440.89 52.68 L441.39 52.55 L441.89 53.42 L442.39 53.53 L442.89 53.54 L443.39 52.29 L443.89 51.92 L444.38 52.69 L444.88 52.1 L445.38 51.34 L445.88 53.38 L446.38 52.87 L446.88 51.49 L447.38 53.35 L447.88 52.72 L448.38 52.68 L448.88 53.29 L449.38 51.6 L449.88 53.13 L450.38 51.89 L450.88 52.28 L451.38 52.27 L451.88 52.42 L452.38 53.22 L452.88 52.03 L453.38 52.66 L453.88 53.48 L454.38 53.15 L454.88 51.82 L455.38 51.42 L455.88 52.63 L456.38 53.32 L456.87 52.86 L457.37 52.19 L457.87 53.06 L458.37 53.45 L458.87 53.37 L459.37 53.41 L459.87 52.97 L460.37 52.25 L460.87 52.28 L461.37 52.65 L461.87 53.22 L462.37 53.5 L462.87 51.73 L463.37 52.01 L463.87 52.52 L464.37 53.18 L464.87 53.21 L465.37 53.14 L465.87 52.97 L466.37 52.84 L466.87 53.29 L467.37 53.5 L467.87 53.28 L468.37 52.78 L468.86 52.88 L469.36 52.62 L469.86 51.75 L470.36 51.77 L470.86 51.31 L471.36 53.53 L471.86 53.26 L472.36 53.44 L472.86 53.5 L473.36 53.03 L473.86 53.23 L474.36 51.55 L474.86 53.41 L475.36 51.56 L475.86 53.54 L476.36 53.45 L476.86 52.86 L477.36 52.61 L477.86 51.87 L478.36 52.56 L478.86 53.46 L479.36 51.75 L479.86 52.96 L480.36 52.48 L480.86 51.74 L481.35 53.1 L481.85 52.11 L482.35 53.19 L482.85 51.32 L483.35 53.46 L483.85 52.02 L484.35 53.53 L484.85 52.18 L485.35 52.7 L485.85 53 L486.35 53.18 L486.85 51.86 L487.35 52.99 L487.85 53.19 L488.35 52.92 L488.85 51.87 L489.35 51.37 L489.85 52.47 L490.35 52.51 L490.85 51.32 L491.35 52.95 L491.85 51.81 L492.35 53.05 L492.85 53.54 L493.34 51.34 L493.84 52.22 L494.34 53.26 L494.84 52.53 L495.34 52.56 L495.84 52.68 L496.34 53.52 L496.84 53.44 L497.34 53.2 L497.84 52.1 L498.34 52.71 L498.84 53.12 L499.34 53.27 L499.84 52.81 L500.34 51.97 L500.84 51.38 L501.34 51.97 L501.84 51.6 L502.34 52.28 L502.84 52.34 L503.34 51.53 L503.84 53.48 L504.34 53.51 L504.84 51.95 L505.33 51.4 L505.83 52.76 L506.33 52.6 L506.83 52.4 L507.33 53.38 L507.83 52.15 L508.33 51.87 L508.83 53.35 L509.33 52.36 L509.83 51.34 L510.33 51.91 L510.83 52.61 L511.33 51.95 L511.83 53.45 L512.33 53.11 L512.83 52.76 L513.33 52.99 L513.83 53.51 L514.33 52.33 L514.83 51.83 L515.33 51.93 L515.83 53.45 L516.33 52.58 L516.83 52.49 L517.33 52.77 L517.82 52.73 L518.32 52.55 L518.82 51.94 L519.32 53.27 L519.82 51.86 L520.32 51.42 L520.82 53.46 L521.32 53.1 L521.82 52.79 L522.32 52.04 L522.82 53.3 L523.32 51.66 L523.82 53.43 L524.32 53.3 L524.82 52.55 L525.32 52.02 L525.82 53.43 L526.32 52.43 L526.82 52.91 L527.32 51.51 L527.82 52.13 L528.32 52.01 L528.82 53.5 L529.32 52.84 L529.81 53.01 L530.31 53.07 L530.81 53.41 L531.31 51.45 L531.81 51.75 L532.31 52.27 L532.81 52.15 L533.31 52.46 L533.81 51.44 L534.31 51.52 L534.81 53.22 L535.31 52.73 L535.81 52.43 L536.31 52.47 L536.81 53.02 L537.31 52.53 L537.81 53.14 L538.31 53.55 L538.81 53.21 L539.31 52.82 L539.81 51.51 L540.31 52.35 L540.81 53.26 L541.31 52.51 L541.81 51.3 L542.3 51.65 L542.8 53.5 L543.3 52.27 L543.8 51.51 L544.3 52.29 L544.8 51.31 L545.3 52.16 L545.8 52.15 L546.3 52.68 L546.8 51.77 L547.3 53.07 L547.8 51.97 L548.3 53.52 L548.8 53.47 L549.3 51.72 L549.8 53.49 L550.3 53.15 L550.8 52.1 L551.3 52.15 L551.8 51.77 L552.3 51.6 L552.8 53.24 L553.3 52.03 L553.8 52.16 L554.29 51.86 L554.79 52.42 L555.29 52.84 L555.79 51.56 L556.29 52.93 L556.79 51.65 L557.29 53.38 L557.79 51.68 L558.29 53.48 L558.79 52.57 L559.29 51.92 L559.79 52.73 L560.29 52.5 L560.79 51.97 L561.29 53.37 L561.79 53.55 L562.29 51.38 L562.79 53.4 L563.29 53.34 L563.79 52.43 L564.29 53.37 L564.79 53.4 L565.29 51.56 L565.79 52.69 L566.29 52.19 L566.78 53.08 L567.28 53.54 L567.78 53.17 L568.28 52.45 L568.78 51.72 L569.28 52.03 L569.78 53.5 L570.28 53.5 L570.78 53.45 L571.28 51.77 L571.78 52.8 L572.28 51.9 L572.78 53.53 L573.28 53.55 L573.78 52.46 L574.28 53.55 L574.78 53.19 L575.28 53.54 L575.78 51.4 L576.28 52.35 L576.78 51.8 L577.28 52.82 L577.78 51.96 L578.28 52.25 L578.77 51.34 L579.27 53.19 L579.77 53.34 L580.27 51.59 L580.77 51.71 L581.27 52.61 L581.77 51.6 L582.27 53.5 L582.77 53.34 L583.27 53.48 L583.77 52.62 L584.27 53.27 L584.77 53.49 L585.27 51.6 L585.77 51.92 L586.27 52.16 L586.77 52.11 L587.27 53.28 L587.77 53.14 L588.27 52 L588.77 51.6 L589.27 51.4 L589.77 53.43 L590.27 53.54 L590.77 52.7 L591.26 53.35 L591.76 52.89 L592.26 52.58 L592.76 52.19 L593.26 51.93 L593.76 51.89 L594.26 52.69 L594.76 52.89 L595.26 51.43 L595.76 53.14 L596.26 51.75 L596.76 52.31 L597.26 51.7 L597.76 52.62 L598.26 51.66 L598.76 53.37 L599.26 53.54 L599.76 51.99 L600.26 53.34 L600.76 53.38 L601.26 53.13 L601.76 52.27 L602.26 53.16 L602.76 51.46 L603.25 53.2 L603.75 53.19 L604.25 51.87 L604.75 52.19 L605.25 52.61 L605.75 52.52 L606.25 52.49 L606.75 51.99 L607.25 53 L607.75 53.4 L608.25 53.47 L608.75 53.5 L609.25 53.5 L609.75 52.47 L610.25 52.95 L610.75 52.16 L611.25 51.58 L611.75 51.9 L612.25 53.06 L612.75 52.06 L613.25 53.44 L613.75 53.18 L614.25 53.47 L614.75 53.45 L615.24 53.54 L615.74 52.46 L616.24 51.43 L616.74 52.1 L617.24 52.24 L617.74 53.26 L618.24 53.54 L618.74 52.56 L619.24 52.1 L619.74 53.25 L620.24 53.32 L620.74 52.81 L621.24 51.71 L621.74 53.1 L622.24 53.51 L622.74 51.66 L623.24 53.11 L623.74 52.07 L624.24 53.27 L624.74 52.38 L625.24 52.76 L625.74 52.19 L626.24 52.59 L626.74 52.48 L627.24 51.26 L627.73 51.97 L628.23 53.07 L628.73 53.32 L629.23 52.93 L629.73 52.77 L630.23 52.4 L630.73 52.73 L631.23 51.72 L631.73 52.36 L632.23 53.01 L632.73 52.31 L633.23 53.52 L633.73 53.53 L634.23 53.1 L634.73 52.89 L635.23 53.32 L635.73 53.23 L636.23 52.81 L636.73 53.52 L637.23 52.91 L637.73 52.44 L638.23 51.35 L638.73 51.86 L639.23 53.54 L639.72 51.97 L640.22 51.6 L640.72 51.47 L641.22 52.99 L641.72 52.7 L642.22 53.39 L642.72 53.44 L643.22 53.5 L643.72 53.22 L644.22 52.86 L644.72 53.54 L645.22 53.24 L645.72 52.69 L646.22 53.53 L646.72 51.35 L647.22 52.37 L647.72 53.3 L648.22 53.27 L648.72 52.9 L649.22 53.33 L649.72 52.03 L650.22 51.26 L650.72 51.77 L651.22 51.63 L651.72 51.7 L652.21 53.03 L652.71 52 L653.21 53.45 L653.71 53.41 L654.21 53.46 L654.71 53.21 L655.21 51.59 L655.71 52.06 L656.21 53.17 L656.71 53.32 L657.21 53.26 L657.71 53.53 L658.21 53.33 L658.71 53.54 L659.21 52.17 L659.71 53.45 L660.21 53.54 L660.71 51.88 L661.21 51.72 L661.71 52.46 L662.21 52.57 L662.71 51.76 L663.21 52.64 L663.71 53.52 L664.2 53.11 L664.7 51.3 L665.2 53.43 L665.7 52.83 L666.2 53.26 L666.7 51.45 L667.2 52.66 L667.7 52.09 L668.2 51.99 L668.7 53.44 L669.2 51.28 L669.7 51.59 L670.2 52.43 L670.2 59.77 L669.7 60.01 L669.2 61.01 L668.7 59.62 L668.2 59.97 L667.7 59.4 L667.2 60.53 L666.7 60.26 L666.2 59.54 L665.7 60.28 L665.2 60.12 L664.7 60.62 L664.2 59.73 L663.71 61.14 L663.21 59.28 L662.71 59.6 L662.21 59.74 L661.71 59.94 L661.21 59.72 L660.71 61.14 L660.21 61.29 L659.71 61.16 L659.21 59.92 L658.71 60.04 L658.21 60.74 L657.71 60.02 L657.21 61.29 L656.71 59.26 L656.21 59.81 L655.71 59.64 L655.21 60.41 L654.71 59.85 L654.21 59.29 L653.71 59.28 L653.21 59.8 L652.71 61.08 L652.21 59.67 L651.72 59.35 L651.22 59.9 L650.72 59.63 L650.22 59.64 L649.72 59.65 L649.22 61.49 L648.72 59.27 L648.22 59.54 L647.72 60.11 L647.22 60.23 L646.72 59.48 L646.22 61.3 L645.72 59.65 L645.22 59.47 L644.72 59.93 L644.22 59.67 L643.72 59.27 L643.22 59.26 L642.72 59.59 L642.22 60.81 L641.72 59.91 L641.22 60.96 L640.72 60.32 L640.22 59.29 L639.72 59.76 L639.23 59.42 L638.73 61 L638.23 60.49 L637.73 59.71 L637.23 61.18 L636.73 59.25 L636.23 60.75 L635.73 59.52 L635.23 59.89 L634.73 59.43 L634.23 59.74 L633.73 59.27 L633.23 59.46 L632.73 59.87 L632.23 59.84 L631.73 60.01 L631.23 60.42 L630.73 59.88 L630.23 60.05 L629.73 59.38 L629.23 60.59 L628.73 59.73 L628.23 60.24 L627.73 60.98 L627.24 59.67 L626.74 59.63 L626.24 59.42 L625.74 59.44 L625.24 61.3 L624.74 60.99 L624.24 60.49 L623.74 60.62 L623.24 60.95 L622.74 60.5 L622.24 59.81 L621.74 61.43 L621.24 60.45 L620.74 60.66 L620.24 61.03 L619.74 59.32 L619.24 59.48 L618.74 59.7 L618.24 60.37 L617.74 59.48 L617.24 59.26 L616.74 60.88 L616.24 61.53 L615.74 59.29 L615.24 60.57 L614.75 59.69 L614.25 60.7 L613.75 59.47 L613.25 59.83 L612.75 60.53 L612.25 60.55 L611.75 59.67 L611.25 60.19 L610.75 59.76 L610.25 61.55 L609.75 59.26 L609.25 59.58 L608.75 60.66 L608.25 60.52 L607.75 59.25 L607.25 61.5 L606.75 60.26 L606.25 59.79 L605.75 59.4 L605.25 60.02 L604.75 59.85 L604.25 59.4 L603.75 59.98 L603.25 59.54 L602.76 59.36 L602.26 60.17 L601.76 59.5 L601.26 59.62 L600.76 60.08 L600.26 60.16 L599.76 59.73 L599.26 60.71 L598.76 59.38 L598.26 60.33 L597.76 59.91 L597.26 59.26 L596.76 59.64 L596.26 61.41 L595.76 60.72 L595.26 61.18 L594.76 60.39 L594.26 59.29 L593.76 59.89 L593.26 60.74 L592.76 59.41 L592.26 60.15 L591.76 61.26 L591.26 59.7 L590.77 59.48 L590.27 59.42 L589.77 60.63 L589.27 61.45 L588.77 60.67 L588.27 59.37 L587.77 61.06 L587.27 59.38 L586.77 61.31 L586.27 59.28 L585.77 59.39 L585.27 59.26 L584.77 60.88 L584.27 59.76 L583.77 59.27 L583.27 59.3 L582.77 59.84 L582.27 60.04 L581.77 59.46 L581.27 60.53 L580.77 59.78 L580.27 59.27 L579.77 59.49 L579.27 60.82 L578.77 60.33 L578.28 59.61 L577.78 61 L577.28 59.3 L576.78 60.92 L576.28 60.98 L575.78 60.13 L575.28 60.72 L574.78 60.21 L574.28 59.79 L573.78 61.02 L573.28 60.02 L572.78 60.45 L572.28 59.27 L571.78 60.03 L571.28 60.08 L570.78 59.3 L570.28 59.5 L569.78 59.42 L569.28 59.34 L568.78 59.54 L568.28 59.29 L567.78 59.97 L567.28 59.81 L566.78 60.67 L566.29 59.25 L565.79 59.44 L565.29 59.27 L564.79 59.42 L564.29 59.3 L563.79 59.58 L563.29 59.49 L562.79 60.96 L562.29 61.08 L561.79 59.8 L561.29 59.76 L560.79 59.33 L560.29 59.86 L559.79 59.39 L559.29 59.51 L558.79 60.73 L558.29 61.52 L557.79 60.21 L557.29 59.26 L556.79 60.43 L556.29 59.47 L555.79 61.02 L555.29 60.63 L554.79 59.27 L554.29 60.11 L553.8 61 L553.3 60.81 L552.8 60.02 L552.3 60.69 L551.8 60.74 L551.3 60.32 L550.8 59.91 L550.3 60.19 L549.8 60.46 L549.3 59.69 L548.8 59.86 L548.3 59.32 L547.8 59.33 L547.3 59.61 L546.8 59.27 L546.3 60.24 L545.8 59.66 L545.3 60.69 L544.8 59.36 L544.3 61.48 L543.8 61.45 L543.3 59.51 L542.8 60.34 L542.3 59.5 L541.81 59.84 L541.31 59.47 L540.81 59.33 L540.31 61.02 L539.81 60.8 L539.31 59.68 L538.81 59.29 L538.31 59.65 L537.81 59.37 L537.31 59.79 L536.81 60.67 L536.31 61.36 L535.81 60.33 L535.31 61.38 L534.81 60.08 L534.31 59.36 L533.81 60.36 L533.31 61.42 L532.81 60.77 L532.31 59.32 L531.81 60.79 L531.31 59.26 L530.81 61.13 L530.31 60.65 L529.81 60.45 L529.32 60.84 L528.82 59.84 L528.32 59.66 L527.82 59.93 L527.32 59.53 L526.82 59.27 L526.32 60.73 L525.82 60.17 L525.32 60.66 L524.82 61.52 L524.32 59.26 L523.82 60.14 L523.32 59.91 L522.82 59.72 L522.32 59.31 L521.82 61.49 L521.32 59.43 L520.82 60.03 L520.32 61.25 L519.82 60.61 L519.32 60.27 L518.82 60.99 L518.32 61.31 L517.82 60.1 L517.33 60.89 L516.83 59.84 L516.33 61.46 L515.83 59.35 L515.33 60.85 L514.83 59.44 L514.33 60.3 L513.83 59.64 L513.33 61.04 L512.83 61.21 L512.33 60.22 L511.83 60.85 L511.33 60.37 L510.83 60.19 L510.33 60.73 L509.83 59.25 L509.33 59.35 L508.83 59.28 L508.33 59.39 L507.83 59.29 L507.33 60.66 L506.83 61.11 L506.33 61.52 L505.83 59.54 L505.33 60.36 L504.84 60.61 L504.34 59.29 L503.84 60.95 L503.34 61.44 L502.84 59.32 L502.34 61.36 L501.84 59.37 L501.34 60.19 L500.84 59.26 L500.34 59.58 L499.84 60.13 L499.34 59.56 L498.84 61.47 L498.34 59.42 L497.84 60.29 L497.34 60.32 L496.84 60.38 L496.34 59.95 L495.84 59.33 L495.34 60.05 L494.84 59.28 L494.34 59.39 L493.84 60.46 L493.34 60.67 L492.85 59.76 L492.35 59.28 L491.85 59.76 L491.35 59.28 L490.85 60.44 L490.35 61.26 L489.85 59.84 L489.35 60.1 L488.85 60.2 L488.35 59.39 L487.85 60.47 L487.35 59.5 L486.85 60.24 L486.35 59.84 L485.85 59.28 L485.35 59.44 L484.85 60.73 L484.35 59.77 L483.85 60.96 L483.35 59.74 L482.85 61.49 L482.35 61.15 L481.85 61.28 L481.35 60.41 L480.86 59.86 L480.36 60.09 L479.86 59.62 L479.36 59.44 L478.86 59.3 L478.36 59.64 L477.86 60.28 L477.36 60.77 L476.86 60.58 L476.36 60.65 L475.86 60.3 L475.36 59.4 L474.86 61.47 L474.36 60.42 L473.86 59.29 L473.36 60.49 L472.86 60.67 L472.36 60.98 L471.86 59.71 L471.36 60.88 L470.86 60.36 L470.36 59.5 L469.86 59.52 L469.36 59.88 L468.86 59.33 L468.37 59.32 L467.87 61.03 L467.37 59.45 L466.87 59.55 L466.37 60.15 L465.87 60.91 L465.37 59.76 L464.87 61.41 L464.37 59.68 L463.87 59.57 L463.37 60.47 L462.87 60.01 L462.37 61.12 L461.87 61.19 L461.37 60.08 L460.87 60.11 L460.37 59.96 L459.87 59.29 L459.37 59.89 L458.87 60.5 L458.37 61.08 L457.87 60.82 L457.37 59.25 L456.87 59.89 L456.38 60.16 L455.88 60.11 L455.38 59.29 L454.88 59.5 L454.38 60.16 L453.88 60.35 L453.38 60.95 L452.88 60.15 L452.38 59.8 L451.88 59.48 L451.38 60.96 L450.88 59.81 L450.38 61.18 L449.88 61.17 L449.38 59.88 L448.88 59.83 L448.38 60.9 L447.88 59.39 L447.38 59.31 L446.88 61.37 L446.38 59.42 L445.88 59.29 L445.38 59.73 L444.88 59.67 L444.38 61.51 L443.89 61.37 L443.39 61.46 L442.89 60.89 L442.39 59.82 L441.89 61.46 L441.39 61.35 L440.89 61.26 L440.39 59.48 L439.89 60.57 L439.39 59.32 L438.89 60.13 L438.39 59.6 L437.89 59.72 L437.39 60.93 L436.89 59.54 L436.39 59.31 L435.89 59.42 L435.39 59.63 L434.89 59.4 L434.39 59.89 L433.89 60.61 L433.39 59.3 L432.89 60.44 L432.39 59.72 L431.9 59.71 L431.4 60.33 L430.9 60.24 L430.4 59.28 L429.9 60.65 L429.4 59.83 L428.9 59.3 L428.4 59.9 L427.9 59.88 L427.4 59.34 L426.9 59.83 L426.4 59.3 L425.9 61.37Z" fill="#3df41c"/>
<path d="M425.9 56.4 H670.2" stroke="#58ff2c" stroke-width="4.14" opacity="0.8"/>
</g>
<g>
<path d="M224.5 120.45 V248 H413.6" fill="none" stroke="#000" stroke-width="1.5"/>
<path d="M220.9 248 H224.5" stroke="#000" stroke-width="1.5"/>
<text x="219.3" y="251.28" font-size="9.5" class="b" text-anchor="end" fill="#000">0</text>
<path d="M220.9 216.3 H224.5" stroke="#000" stroke-width="1.5"/>
<text x="219.3" y="219.58" font-size="9.5" class="b" text-anchor="end" fill="#000">1</text>
<path d="M220.9 184.6 H224.5" stroke="#000" stroke-width="1.5"/>
<text x="219.3" y="187.88" font-size="9.5" class="b" text-anchor="end" fill="#000">2</text>
<path d="M220.9 152.9 H224.5" stroke="#000" stroke-width="1.5"/>
<text x="219.3" y="156.18" font-size="9.5" class="b" text-anchor="end" fill="#000">3</text>
<path d="M220.9 121.2 H224.5" stroke="#000" stroke-width="1.5"/>
<text x="219.3" y="124.48" font-size="9.5" class="b" text-anchor="end" fill="#000">4</text>
<path d="M248.2 248 V251.6" stroke="#000" stroke-width="1.5"/>
<text x="251.15" y="258.7" font-size="9" class="b" text-anchor="end" fill="#000" transform="rotate(-45 251.15 258.7)">0 h</text>
<path d="M295.7 248 V251.6" stroke="#000" stroke-width="1.5"/>
<text x="298.65" y="258.7" font-size="9" class="b" text-anchor="end" fill="#000" transform="rotate(-45 298.65 258.7)">12 h</text>
<path d="M343.1 248 V251.6" stroke="#000" stroke-width="1.5"/>
<text x="346.05" y="258.7" font-size="9" class="b" text-anchor="end" fill="#000" transform="rotate(-45 346.05 258.7)">24 h</text>
<path d="M391 248 V251.6" stroke="#000" stroke-width="1.5"/>
<text x="393.95" y="258.7" font-size="9" class="b" text-anchor="end" fill="#000" transform="rotate(-45 393.95 258.7)">48 h</text>
<text x="195.2" y="184.5" font-size="10.4" class="b" text-anchor="middle" fill="#000" transform="rotate(-90 195.2 184.5)">Relative number of spikes</text>
<text x="207.9" y="184.5" font-size="10.4" class="b" text-anchor="middle" fill="#000" transform="rotate(-90 207.9 184.5)">(Fold of baseline)</text>
<path d="M248.2 216.3 L295.7 172.1 L343.1 148.8 L391 160.8" fill="none" stroke="#000" stroke-width="1.55"/>
<circle cx="248.2" cy="216.3" r="2.7" fill="#000"/>
<path d="M295.7 164.8 V179.4 M292.75 164.8 H298.65 M292.75 179.4 H298.65" fill="none" stroke="#000" stroke-width="1.9"/>
<circle cx="295.7" cy="172.1" r="2.7" fill="#000"/>
<path d="M343.1 136.7 V160.4 M340.15 136.7 H346.05 M340.15 160.4 H346.05" fill="none" stroke="#000" stroke-width="1.9"/>
<circle cx="343.1" cy="148.8" r="2.7" fill="#000"/>
<path d="M391 155.7 V165.6 M388.05 155.7 H393.95 M388.05 165.6 H393.95" fill="none" stroke="#000" stroke-width="1.9"/>
<circle cx="391" cy="160.8" r="2.7" fill="#000"/>
<path d="M248.2 216.3 L295.7 230.9 L343.1 229 L391 244.7" fill="none" stroke="#f0717f" stroke-width="1.55"/>
<rect x="245.5" y="213.6" width="5.4" height="5.4" fill="#f0717f"/>
<path d="M295.7 222.1 V239.3 M292.75 222.1 H298.65 M292.75 239.3 H298.65" fill="none" stroke="#f0717f" stroke-width="1.9"/>
<rect x="293" y="228.2" width="5.4" height="5.4" fill="#f0717f"/>
<path d="M343.1 220.7 V237.8 M340.15 220.7 H346.05 M340.15 237.8 H346.05" fill="none" stroke="#f0717f" stroke-width="1.9"/>
<rect x="340.4" y="226.3" width="5.4" height="5.4" fill="#f0717f"/>
<path d="M391 243.2 V246.3 M388.05 243.2 H393.95 M388.05 246.3 H393.95" fill="none" stroke="#f0717f" stroke-width="1.9"/>
<rect x="388.3" y="242" width="5.4" height="5.4" fill="#f0717f"/>
<path d="M266.9 101 H280.4" stroke="#000" stroke-width="1.55"/>
<circle cx="273.65" cy="101" r="2.7" fill="#000"/>
<text x="288.4" y="104.7" font-size="10.4" class="b" text-anchor="start" fill="#000">CTRL-IgG</text>
<path d="M266.9 116.3 H280.4" stroke="#f0717f" stroke-width="1.55"/>
<rect x="270.95" y="113.6" width="5.4" height="5.4" fill="#f0717f"/>
<text x="288.4" y="120" font-size="10.4" class="b" text-anchor="start" fill="#000">Anti-NMDAR1-IgG</text>
<text x="296.6" y="160.3" font-size="13.8" text-anchor="middle" fill="#f0717f" letter-spacing="1.1">****</text>
<text x="345.2" y="135.8" font-size="13.8" text-anchor="middle" fill="#f0717f" letter-spacing="1.1">****</text>
<text x="392.7" y="153.3" font-size="13.8" text-anchor="middle" fill="#f0717f" letter-spacing="1.1">****</text>
</g>
<g>
<path d="M470.3 120.55 V247.6 H661.5" fill="none" stroke="#000" stroke-width="1.5"/>
<path d="M466.7 247.6 H470.3" stroke="#000" stroke-width="1.5"/>
<text x="465.1" y="250.88" font-size="9.5" class="b" text-anchor="end" fill="#000">0</text>
<path d="M466.7 205.5 H470.3" stroke="#000" stroke-width="1.5"/>
<text x="465.1" y="208.78" font-size="9.5" class="b" text-anchor="end" fill="#000">1</text>
<path d="M466.7 163.4 H470.3" stroke="#000" stroke-width="1.5"/>
<text x="465.1" y="166.68" font-size="9.5" class="b" text-anchor="end" fill="#000">2</text>
<path d="M466.7 121.3 H470.3" stroke="#000" stroke-width="1.5"/>
<text x="465.1" y="124.58" font-size="9.5" class="b" text-anchor="end" fill="#000">3</text>
<path d="M494.3 247.6 V251.2" stroke="#000" stroke-width="1.5"/>
<text x="497.25" y="258.3" font-size="9" class="b" text-anchor="end" fill="#000" transform="rotate(-45 497.25 258.3)">0 h</text>
<path d="M541.7 247.6 V251.2" stroke="#000" stroke-width="1.5"/>
<text x="544.65" y="258.3" font-size="9" class="b" text-anchor="end" fill="#000" transform="rotate(-45 544.65 258.3)">12 h</text>
<path d="M589.1 247.6 V251.2" stroke="#000" stroke-width="1.5"/>
<text x="592.05" y="258.3" font-size="9" class="b" text-anchor="end" fill="#000" transform="rotate(-45 592.05 258.3)">24 h</text>
<path d="M637.6 247.6 V251.2" stroke="#000" stroke-width="1.5"/>
<text x="640.55" y="258.3" font-size="9" class="b" text-anchor="end" fill="#000" transform="rotate(-45 640.55 258.3)">48 h</text>
<text x="441.3" y="183.5" font-size="10.4" class="b" text-anchor="middle" fill="#000" transform="rotate(-90 441.3 183.5)">Relative weighted mean firing rate</text>
<text x="455.1" y="183.5" font-size="10.4" class="b" text-anchor="middle" fill="#000" transform="rotate(-90 455.1 183.5)">(Fold of baseline)</text>
<path d="M494.3 205.5 L541.7 170.2 L589.1 160.3 L637.6 156.3" fill="none" stroke="#000" stroke-width="1.55"/>
<circle cx="494.3" cy="205.5" r="2.7" fill="#000"/>
<path d="M541.7 160.8 V179.7 M538.75 160.8 H544.65 M538.75 179.7 H544.65" fill="none" stroke="#000" stroke-width="1.9"/>
<circle cx="541.7" cy="170.2" r="2.7" fill="#000"/>
<path d="M589.1 143.8 V176.7 M586.15 143.8 H592.05 M586.15 176.7 H592.05" fill="none" stroke="#000" stroke-width="1.9"/>
<circle cx="589.1" cy="160.3" r="2.7" fill="#000"/>
<path d="M637.6 145.8 V166.7 M634.65 145.8 H640.55 M634.65 166.7 H640.55" fill="none" stroke="#000" stroke-width="1.9"/>
<circle cx="637.6" cy="156.3" r="2.7" fill="#000"/>
<path d="M494.3 205.5 L541.7 220.7 L589.1 214.7 L637.6 237.6" fill="none" stroke="#f0717f" stroke-width="1.55"/>
<rect x="491.6" y="202.8" width="5.4" height="5.4" fill="#f0717f"/>
<path d="M541.7 208.2 V233.6 M538.75 208.2 H544.65 M538.75 233.6 H544.65" fill="none" stroke="#f0717f" stroke-width="1.9"/>
<rect x="539" y="218" width="5.4" height="5.4" fill="#f0717f"/>
<path d="M589.1 202.2 V227.2 M586.15 202.2 H592.05 M586.15 227.2 H592.05" fill="none" stroke="#f0717f" stroke-width="1.9"/>
<rect x="586.4" y="212" width="5.4" height="5.4" fill="#f0717f"/>
<path d="M637.6 230.7 V244.1 M634.65 230.7 H640.55 M634.65 244.1 H640.55" fill="none" stroke="#f0717f" stroke-width="1.9"/>
<rect x="634.9" y="234.9" width="5.4" height="5.4" fill="#f0717f"/>
<path d="M512.7 101.3 H526.7" stroke="#000" stroke-width="1.55"/>
<circle cx="519.7" cy="101.3" r="2.7" fill="#000"/>
<text x="533.7" y="105" font-size="10.4" class="b" text-anchor="start" fill="#000">CTRL-IgG</text>
<path d="M512.7 116.3 H526.7" stroke="#f0717f" stroke-width="1.55"/>
<rect x="517" y="113.6" width="5.4" height="5.4" fill="#f0717f"/>
<text x="533.7" y="120" font-size="10.4" class="b" text-anchor="start" fill="#000">Anti-NMDAR1-IgG</text>
<text x="543.2" y="160" font-size="13.8" text-anchor="middle" fill="#f0717f" letter-spacing="1.1">**</text>
<text x="591" y="143.4" font-size="13.8" text-anchor="middle" fill="#f0717f" letter-spacing="1.1">**</text>
<text x="638.8" y="142.7" font-size="13.8" text-anchor="middle" fill="#f0717f" letter-spacing="1.1">****</text>
</g>
</g>
<g id="pb">
<defs><filter id="fb8" x="-30%" y="-30%" width="160%" height="160%"><feGaussianBlur stdDeviation="6"/></filter><filter id="fb12" x="-30%" y="-30%" width="160%" height="160%"><feGaussianBlur stdDeviation="11"/></filter><filter id="fb30" x="-120%" y="-120%" width="340%" height="340%"><feGaussianBlur stdDeviation="26"/></filter><filter id="fb40" x="-150%" y="-150%" width="400%" height="400%"><feGaussianBlur stdDeviation="45"/></filter></defs>
<text x="10.2" y="310.6" font-size="29.6" text-anchor="start" fill="#000">b</text>
<text x="25.1" y="348.8" font-size="14" text-anchor="middle" fill="#000" transform="rotate(-90 25.1 348.8)">CTRL-IgG</text>
<text x="25.1" y="479.8" font-size="14" text-anchor="middle" fill="#000" transform="rotate(-90 25.1 479.8)">Anti-NMDAR1-IgG</text>
<g transform="translate(38.1 295)">
<clipPath id="cf1"><rect x="0" y="0" width="132.9" height="105.5"/></clipPath>
<g clip-path="url(#cf1)">
<rect x="0" y="0" width="132.9" height="105.5" fill="#0b2b06"/>
<g transform="scale(0.21896) translate(-38 -32)">
<ellipse cx="340" cy="280" rx="290" ry="240" fill="#0e3209" filter="url(#fb40)"/>
<path d="M330 40 C390 33 450 52 490 100 C540 150 588 215 592 272 C592 330 560 380 510 410 C450 450 390 500 330 502 C270 503 200 490 170 460 C130 420 110 370 120 320 C130 260 160 200 190 150 C220 100 270 45 330 40Z" fill="#2a8618" filter="url(#fb30)" opacity="0.9"/>
<ellipse cx="110" cy="250" rx="55" ry="70" fill="#1f6411" filter="url(#fb30)" opacity="0.9"/>
<path d="M330 40 C390 33 450 52 490 100 C540 150 588 215 592 272 C592 330 560 380 510 410 C450 450 390 500 330 502 C270 503 200 490 170 460 C130 420 110 370 120 320 C130 260 160 200 190 150 C220 100 270 45 330 40Z" fill="#278c17" filter="url(#fb8)"/>
<path d="M330 40 C390 33 450 52 490 100 C540 150 588 215 592 272 C592 330 560 380 510 410 C450 450 390 500 330 502 C270 503 200 490 170 460 C130 420 110 370 120 320 C130 260 160 200 190 150 C220 100 270 45 330 40Z" fill="none" stroke="#44c428" stroke-width="24" filter="url(#fb12)" opacity="0.7"/>
<path d="M250 62 C280 45 305 40 330 40 C390 33 450 52 490 100 C540 150 588 215 592 272 C592 330 560 380 510 410 C450 450 390 500 330 502 C300 503 270 500 250 496" fill="none" stroke="#66ee40" stroke-width="13" stroke-linecap="round" filter="url(#fb12)" opacity="0.95"/>
<ellipse cx="370" cy="270" rx="90" ry="70" fill="#3bb824" filter="url(#fb30)" opacity="0.8"/>
<ellipse cx="250" cy="390" rx="80" ry="55" fill="#23800f" filter="url(#fb30)" opacity="0.55"/>
<ellipse cx="300" cy="150" rx="70" ry="50" fill="#23800f" filter="url(#fb30)" opacity="0.45"/>
</g>
<circle cx="59.61" cy="6" r="0.55" fill="#b8f0a0" opacity="0.75"/>
<circle cx="60.22" cy="4.03" r="0.57" fill="#b8f0a0" opacity="0.75"/>
<circle cx="57.57" cy="4.91" r="0.41" fill="#2a3a20" opacity="0.75"/>
<circle cx="72.2" cy="3.38" r="0.42" fill="#2a3a20" opacity="0.75"/>
<circle cx="72.52" cy="5.85" r="0.35" fill="#90a080" opacity="0.75"/>
<circle cx="74.98" cy="2.93" r="0.34" fill="#90a080" opacity="0.75"/>
<circle cx="77.27" cy="9.81" r="0.53" fill="#2a3a20" opacity="0.75"/>
<circle cx="81.1" cy="6.98" r="0.39" fill="#2a3a20" opacity="0.75"/>
<circle cx="81.11" cy="8.48" r="0.35" fill="#2a3a20" opacity="0.75"/>
<circle cx="36.25" cy="27.91" r="0.39" fill="#90a080" opacity="0.75"/>
<circle cx="33.82" cy="27.79" r="0.38" fill="#2a3a20" opacity="0.75"/>
<circle cx="33.7" cy="30.39" r="0.48" fill="#b8f0a0" opacity="0.75"/>
<circle cx="38.05" cy="26.29" r="0.55" fill="#d0ffc0" opacity="0.75"/>
<circle cx="37.15" cy="27.29" r="0.44" fill="#90a080" opacity="0.75"/>
<circle cx="35.93" cy="27.05" r="0.58" fill="#b8f0a0" opacity="0.75"/>
<circle cx="32.71" cy="42.53" r="0.41" fill="#90a080" opacity="0.75"/>
<circle cx="33.6" cy="40.95" r="0.51" fill="#b8f0a0" opacity="0.75"/>
<circle cx="33.78" cy="44.73" r="0.53" fill="#b8f0a0" opacity="0.75"/>
<circle cx="25.8" cy="66.36" r="0.45" fill="#d0ffc0" opacity="0.75"/>
<circle cx="25.66" cy="63.6" r="0.33" fill="#90a080" opacity="0.75"/>
<circle cx="25.08" cy="65.78" r="0.31" fill="#d0ffc0" opacity="0.75"/>
<circle cx="32.44" cy="87.26" r="0.45" fill="#d0ffc0" opacity="0.75"/>
<circle cx="30.11" cy="87.49" r="0.58" fill="#d0ffc0" opacity="0.75"/>
<circle cx="30.84" cy="88.15" r="0.39" fill="#d0ffc0" opacity="0.75"/>
<circle cx="37.76" cy="93.79" r="0.6" fill="#d0ffc0" opacity="0.75"/>
<circle cx="35.21" cy="91.47" r="0.31" fill="#90a080" opacity="0.75"/>
<circle cx="37.53" cy="92.65" r="0.44" fill="#d0ffc0" opacity="0.75"/>
<circle cx="62.53" cy="98.07" r="0.54" fill="#b8f0a0" opacity="0.75"/>
<circle cx="62.18" cy="98.67" r="0.49" fill="#2a3a20" opacity="0.75"/>
<circle cx="63.99" cy="98.27" r="0.41" fill="#90a080" opacity="0.75"/>
<circle cx="95.45" cy="74.13" r="0.44" fill="#2a3a20" opacity="0.75"/>
<circle cx="99.22" cy="75.86" r="0.59" fill="#90a080" opacity="0.75"/>
<circle cx="97.97" cy="73.72" r="0.39" fill="#d0ffc0" opacity="0.75"/>
<circle cx="101.87" cy="63.84" r="0.55" fill="#90a080" opacity="0.75"/>
<circle cx="102.38" cy="63.97" r="0.56" fill="#90a080" opacity="0.75"/>
<circle cx="100.98" cy="65.22" r="0.32" fill="#d0ffc0" opacity="0.75"/>
<circle cx="87.01" cy="13.22" r="0.53" fill="#b8f0a0" opacity="0.75"/>
<circle cx="85.29" cy="14.61" r="0.55" fill="#d0ffc0" opacity="0.75"/>
<circle cx="84.89" cy="15.72" r="0.59" fill="#d0ffc0" opacity="0.75"/>
<circle cx="93.95" cy="22.36" r="0.44" fill="#b8f0a0" opacity="0.75"/>
<circle cx="95.69" cy="22.95" r="0.44" fill="#d0ffc0" opacity="0.75"/>
<circle cx="95.86" cy="24.24" r="0.4" fill="#d0ffc0" opacity="0.75"/>
<circle cx="106.12" cy="46.5" r="0.41" fill="#90a080" opacity="0.75"/>
<circle cx="106.91" cy="47.02" r="0.59" fill="#90a080" opacity="0.75"/>
<circle cx="107.37" cy="45.62" r="0.36" fill="#2a3a20" opacity="0.75"/>
</g>
<rect x="118.54" y="97.1" width="10.4" height="3.6" fill="#fff"/>
</g>
<g transform="translate(38.1 428)">
<clipPath id="cf2"><rect x="0" y="0" width="132.9" height="105.5"/></clipPath>
<g clip-path="url(#cf2)">
<rect x="0" y="0" width="132.9" height="105.5" fill="#0b2b06"/>
<g transform="scale(0.21896) translate(-38 -35)">
<ellipse cx="320" cy="300" rx="290" ry="240" fill="#113a09" filter="url(#fb40)"/>
<ellipse cx="600" cy="290" rx="20" ry="22" fill="#1f6a12" filter="url(#fb12)"/>
<path d="M340 88 C400 85 470 110 520 170 C560 220 580 270 572 320 C560 380 530 430 490 460 C440 500 380 522 330 515 C290 510 280 470 260 440 C230 430 200 440 170 450 C140 465 100 460 95 440 C90 410 70 390 60 350 C50 310 55 270 70 240 C90 190 130 160 180 140 C230 115 290 92 340 88Z" fill="#2c8c1a" filter="url(#fb30)" transform="translate(-10 -9) scale(1.03 1.03)"/>
<path d="M340 88 C400 85 470 110 520 170 C560 220 580 270 572 320 C560 380 530 430 490 460 C440 500 380 522 330 515 C290 510 280 470 260 440 C230 430 200 440 170 450 C140 465 100 460 95 440 C90 410 70 390 60 350 C50 310 55 270 70 240 C90 190 130 160 180 140 C230 115 290 92 340 88Z" fill="#3fc425" filter="url(#fb8)"/>
<path d="M340 88 C400 85 470 110 520 170 C560 220 580 270 572 320 C560 380 530 430 490 460 C440 500 380 522 330 515 C290 510 280 470 260 440 C230 430 200 440 170 450 C140 465 100 460 95 440 C90 410 70 390 60 350 C50 310 55 270 70 240 C90 190 130 160 180 140 C230 115 290 92 340 88Z" fill="none" stroke="#4ed42e" stroke-width="20" filter="url(#fb12)" opacity="0.9"/>
<ellipse cx="280" cy="315" rx="175" ry="135" fill="#63ee40" filter="url(#fb40)" opacity="0.97" transform="rotate(-35 280 315)"/>
<ellipse cx="270" cy="340" rx="60" ry="50" fill="#84ff60" filter="url(#fb30)" opacity="0.8"/>
<ellipse cx="470" cy="270" rx="50" ry="110" fill="#2f9c1b" filter="url(#fb30)" opacity="0.6"/>
<circle cx="120" cy="455" r="22" fill="#4acb2c" filter="url(#fb8)"/>
<circle cx="160" cy="470" r="18" fill="#48c62a" filter="url(#fb8)"/>
<circle cx="205" cy="462" r="20" fill="#4ccf2e" filter="url(#fb8)"/>
<circle cx="250" cy="478" r="16" fill="#48c62a" filter="url(#fb8)"/>
<circle cx="85" cy="420" r="18" fill="#4acb2c" filter="url(#fb8)"/>
<circle cx="300" cy="520" r="14" fill="#44c028" filter="url(#fb8)"/>
</g>
<circle cx="65.98" cy="11.97" r="0.36" fill="#2a3a20" opacity="0.75"/>
<circle cx="66.83" cy="11.83" r="0.57" fill="#90a080" opacity="0.75"/>
<circle cx="64.45" cy="12.7" r="0.52" fill="#b8f0a0" opacity="0.75"/>
<circle cx="56.05" cy="16.02" r="0.35" fill="#90a080" opacity="0.75"/>
<circle cx="56.32" cy="12.68" r="0.53" fill="#b8f0a0" opacity="0.75"/>
<circle cx="56.9" cy="15.22" r="0.58" fill="#b8f0a0" opacity="0.75"/>
<circle cx="78.08" cy="14.22" r="0.57" fill="#90a080" opacity="0.75"/>
<circle cx="80.35" cy="16.97" r="0.38" fill="#90a080" opacity="0.75"/>
<circle cx="80.5" cy="14.13" r="0.56" fill="#b8f0a0" opacity="0.75"/>
<circle cx="86.24" cy="19.22" r="0.34" fill="#90a080" opacity="0.75"/>
<circle cx="86.97" cy="20.65" r="0.59" fill="#b8f0a0" opacity="0.75"/>
<circle cx="86.04" cy="20.76" r="0.57" fill="#2a3a20" opacity="0.75"/>
<circle cx="95.59" cy="25.4" r="0.34" fill="#b8f0a0" opacity="0.75"/>
<circle cx="98.45" cy="27.37" r="0.46" fill="#90a080" opacity="0.75"/>
<circle cx="95.57" cy="25.65" r="0.49" fill="#2a3a20" opacity="0.75"/>
<circle cx="103.91" cy="39.73" r="0.58" fill="#2a3a20" opacity="0.75"/>
<circle cx="106.42" cy="37.58" r="0.47" fill="#d0ffc0" opacity="0.75"/>
<circle cx="105.97" cy="38.01" r="0.52" fill="#d0ffc0" opacity="0.75"/>
<circle cx="109.78" cy="50.03" r="0.59" fill="#90a080" opacity="0.75"/>
<circle cx="108.43" cy="52.34" r="0.52" fill="#b8f0a0" opacity="0.75"/>
<circle cx="110.86" cy="51.98" r="0.56" fill="#b8f0a0" opacity="0.75"/>
<circle cx="111.86" cy="59.11" r="0.44" fill="#d0ffc0" opacity="0.75"/>
<circle cx="113.03" cy="59.53" r="0.41" fill="#b8f0a0" opacity="0.75"/>
<circle cx="113.85" cy="55.59" r="0.36" fill="#b8f0a0" opacity="0.75"/>
<circle cx="109.7" cy="60.61" r="0.39" fill="#b8f0a0" opacity="0.75"/>
<circle cx="109.06" cy="61.38" r="0.31" fill="#b8f0a0" opacity="0.75"/>
<circle cx="111.04" cy="62.54" r="0.4" fill="#90a080" opacity="0.75"/>
<circle cx="100.08" cy="75.37" r="0.43" fill="#b8f0a0" opacity="0.75"/>
<circle cx="97.89" cy="76.96" r="0.45" fill="#90a080" opacity="0.75"/>
<circle cx="100.79" cy="75.35" r="0.5" fill="#2a3a20" opacity="0.75"/>
<circle cx="98.75" cy="80.2" r="0.31" fill="#d0ffc0" opacity="0.75"/>
<circle cx="101.82" cy="80.06" r="0.58" fill="#d0ffc0" opacity="0.75"/>
<circle cx="102.01" cy="79.25" r="0.31" fill="#b8f0a0" opacity="0.75"/>
<circle cx="96.58" cy="83.7" r="0.48" fill="#d0ffc0" opacity="0.75"/>
<circle cx="98.65" cy="81.97" r="0.44" fill="#2a3a20" opacity="0.75"/>
<circle cx="95.89" cy="84.4" r="0.51" fill="#d0ffc0" opacity="0.75"/>
<circle cx="3.52" cy="67.25" r="0.48" fill="#90a080" opacity="0.75"/>
<circle cx="6.47" cy="68.09" r="0.53" fill="#d0ffc0" opacity="0.75"/>
<circle cx="6.78" cy="67.42" r="0.58" fill="#b8f0a0" opacity="0.75"/>
<circle cx="41.15" cy="19.31" r="0.35" fill="#b8f0a0" opacity="0.75"/>
<circle cx="43.2" cy="22.24" r="0.35" fill="#2a3a20" opacity="0.75"/>
<circle cx="41.87" cy="21.04" r="0.32" fill="#90a080" opacity="0.75"/>
<circle cx="26.91" cy="28.84" r="0.46" fill="#d0ffc0" opacity="0.75"/>
<circle cx="28.48" cy="26.58" r="0.46" fill="#90a080" opacity="0.75"/>
<circle cx="26.81" cy="28.61" r="0.56" fill="#b8f0a0" opacity="0.75"/>
</g>
<rect x="118.54" y="97.1" width="10.4" height="3.6" fill="#fff"/>
</g>
<path d="M189.81 364.85 L191 364.82 L192.19 365.46 L193.38 365.53 L194.58 366.1 L195.77 366.25 L196.94 366.28 L198.1 365.5 L199.27 365.32 L200.44 366.19 L201.61 365.38 L202.78 365.55 L204 359.98 L205.23 355.04 L207.33 346.28 L208.56 347.75 L209.78 348.03 L211.01 350.62 L212.24 353.29 L213.64 351.94 L215.04 349.78 L216.79 355.04 L218.02 352.91 L219.24 350.83 L220.64 353.98 L222.05 356.79 L223.21 358.12 L224.38 360.46 L225.55 362.05 L226.78 361.61 L228 360.29 L229.75 349.78 L231.16 345.78 L232.56 341.72 L233.96 343.41 L235.36 344.53 L236.59 349.11 L237.81 353.29 L238.98 354.52 L240.15 357.1 L241.32 358.54 L242.54 356.9 L243.77 355.04 L245.87 344.53 L247.1 342.89 L248.33 341.72 L249.73 344.31 L251.13 348.03 L252.35 351.1 L253.58 353.29 L254.98 352.38 L256.38 351.53 L257.61 353.2 L258.84 354.34 L260.06 353.39 L261.29 351.53 L262.69 352.67 L264.09 353.29 L265.32 349.41 L266.55 344.53 L268.65 343.83 L269.87 345.8 L271.1 348.03 L272.5 347.52 L273.9 346.28 L275.13 349.72 L276.36 353.29 L277.52 354.98 L278.69 356.08 L279.86 356.79 L281.09 357.18 L282.31 358.54 L283.71 355.48 L285.12 353.29 L286.87 341.02 L288.62 340.32 L290.02 344.71 L291.42 349.78 L292.65 352.97 L293.88 355.04 L295.04 356.13 L296.21 357.53 L297.38 358.54 L298.55 359.24 L299.72 360.42 L300.88 361.35 L302.11 361.56 L303.34 362.05 L305.44 349.78 L306.84 348.03 L308.24 350.48 L309.64 353.29 L311.04 352.16 L312.45 350.83 L313.67 353.91 L314.9 356.79 L316.65 353.29 L318.75 342.78 L320.85 341.02 L322.96 345.23 L324.18 345.01 L325.41 343.83 L326.64 347.55 L327.86 350.83 L329.96 346.28 L331.37 335.77 L333.12 334.72 L334.87 342.78 L336.97 346.28 L338.2 349.42 L339.43 351.53 L340.65 351.09 L341.88 349.78 L343.98 341.02 L345.38 343.83 L347.48 351.53 L348.71 353 L349.94 353.29 L351.16 352.97 L352.39 352.24 L354.49 355.04 L355.72 348.5 L356.94 342.78 L358.7 341.72 L359.92 343.91 L361.15 345.23 L363.25 349.78 L364.48 349.46 L365.7 348.03 L366.93 352.02 L368.16 355.04 L369.56 354.25 L370.96 353.29 L372.71 339.27 L374.46 338.22 L376.22 344.53 L377.44 347.41 L378.67 349.78 L380.07 352.06 L381.47 355.04 L382.7 355.09 L383.92 354.34 L386.03 346.28 L387.43 339.27 L388.83 338.22" fill="none" stroke="#000" stroke-width="1.7" stroke-linejoin="round" stroke-linecap="round"/>
<path d="M189.81 490.55 L190.98 489.25 L192.15 488.13 L193.31 487.75 L194.54 482.87 L195.77 478.29 L197.52 471.28 L199.27 471.28 L201.02 477.24 L202.42 480.26 L203.83 484.24 L205.23 485.15 L206.63 487.14 L208.03 488.8 L209.34 489.82 L210.66 490.09 L211.97 490.48 L213.29 490.55 L214.54 490.31 L215.79 490.9 L217.04 490.69 L218.29 490.69 L219.54 490.75 L220.79 491.05 L222.05 491.6 L223.21 492.2 L224.38 492.06 L225.55 492.03 L226.72 492.02 L227.89 491.17 L229.05 491.34 L230.22 491.78 L231.39 491.93 L232.56 492.1 L233.73 492.13 L234.89 491.02 L236.06 491.6 L237.23 491.72 L238.4 491.78 L239.57 491.52 L240.73 491.03 L241.9 491.42 L243.07 490.85 L244.24 492.01 L245.41 491.88 L246.57 491.41 L247.74 491.03 L248.91 491.85 L250.08 491.25 L251.25 491.31 L252.41 491.69 L253.58 491.6 L254.75 491.08 L255.92 490.9 L257.08 491.11 L258.25 490.83 L259.42 490.4 L260.59 490.56 L261.76 491.22 L262.92 490.1 L264.09 490.06 L265.26 490.82 L266.43 490.29 L267.6 490.55 L268.76 490.55 L269.93 490.42 L271.1 490.19 L272.27 491.06 L273.44 489.89 L274.6 490.15 L275.77 489.81 L276.94 490.36 L278.11 489.82 L279.28 489.88 L280.44 490.38 L281.61 489.74 L282.78 490.02 L283.95 490.46 L285.12 489.85 L286.28 489.27 L287.45 489.19 L288.62 489.4 L289.79 490.13 L290.96 489.89 L292.12 489.34 L293.29 489.45 L294.46 489.21 L295.63 489.58 L296.8 488.98 L297.96 489.87 L299.13 490.12 L300.3 490.18 L301.47 489.85 L302.63 489.5 L303.8 489.85 L304.97 488.24 L306.14 488.33 L307.31 488.98 L308.47 488.42 L309.64 487.75 L310.81 485.64 L311.98 484.4 L313.15 481.79 L314.9 466.02 L316.3 461.82 L318.05 466.02 L320.15 474.78 L321.56 477.58 L322.96 480.04 L324.36 481.65 L325.76 482.09 L327.16 483.54 L328.33 483.69 L329.5 484.63 L330.67 484.79 L331.83 485.71 L333 487.11 L334.17 487.05 L335.34 487.1 L336.51 486.94 L337.67 487.28 L338.84 487.75 L340.01 488.9 L341.18 488.8 L342.35 488.69 L343.51 488.68 L344.68 488.5 L345.85 489.82 L347.02 489.13 L348.19 488.91 L349.35 488.79 L350.52 488.88 L351.69 489.12 L352.86 489.92 L354.02 489.27 L355.19 489.85 L356.36 489.18 L357.53 489.78 L358.7 489.41 L359.86 490.43 L361.03 489.17 L362.2 489.72 L363.37 490.03 L364.54 489.49 L365.7 490.27 L366.87 489.53 L368.04 489.17 L369.21 489.5 L370.38 489.29 L371.54 488.68 L372.71 489.13 L373.88 488.8 L375.05 489.61 L376.22 489.44 L377.38 488.88 L378.55 488.14 L379.72 488.37 L380.89 488.26 L382.06 488.13 L383.22 488.45 L384.34 488 L385.47 488.83 L386.59 487.74 L387.71 487.54 L388.83 488.1" fill="none" stroke="#000" stroke-width="1.7" stroke-linejoin="round" stroke-linecap="round"/>
<text x="360.4" y="387.2" font-size="16.2" text-anchor="start" fill="#000">125 s</text>
<text x="355.4" y="529.1" font-size="16.2" text-anchor="start" fill="#000">125 s</text>
<g>
<rect x="523.7" y="389.6" width="43.2" height="83.6" fill="none" stroke="#000" stroke-width="2.6"/>
<rect x="591.6" y="427.2" width="43.6" height="46" fill="none" stroke="#f0717f" stroke-width="2.6"/>
<path d="M545.4 389.6 V382.3 M534.2 382.3 H556.2" stroke="#000" stroke-width="2.5" fill="none"/>
<path d="M613.4 427.2 V420.3 M602.5 420.3 H624.4" stroke="#f0717f" stroke-width="2.5" fill="none"/>
<circle cx="545.15" cy="323.27" r="3.05" fill="#000"/>
<circle cx="545.15" cy="330.42" r="3.05" fill="#000"/>
<circle cx="538" cy="337.58" r="3.05" fill="#000"/>
<circle cx="545.15" cy="337.58" r="3.05" fill="#000"/>
<circle cx="551.95" cy="337.58" r="3.05" fill="#000"/>
<circle cx="545.15" cy="358.32" r="3.05" fill="#000"/>
<circle cx="545.15" cy="364.4" r="3.05" fill="#000"/>
<circle cx="545.15" cy="371.55" r="3.05" fill="#000"/>
<circle cx="545.15" cy="378.71" r="3.05" fill="#000"/>
<circle cx="538" cy="383.71" r="3.05" fill="#000"/>
<circle cx="551.95" cy="383.71" r="3.05" fill="#000"/>
<circle cx="541.57" cy="390.87" r="3.05" fill="#000"/>
<circle cx="548.37" cy="390.87" r="3.05" fill="#000"/>
<circle cx="538" cy="398.02" r="3.05" fill="#000"/>
<circle cx="545.15" cy="398.02" r="3.05" fill="#000"/>
<circle cx="551.95" cy="398.02" r="3.05" fill="#000"/>
<circle cx="534.42" cy="404.81" r="3.05" fill="#000"/>
<circle cx="541.57" cy="404.81" r="3.05" fill="#000"/>
<circle cx="548.37" cy="404.81" r="3.05" fill="#000"/>
<circle cx="555.52" cy="404.81" r="3.05" fill="#000"/>
<circle cx="527.63" cy="411.61" r="3.05" fill="#000"/>
<circle cx="534.42" cy="411.61" r="3.05" fill="#000"/>
<circle cx="541.57" cy="411.61" r="3.05" fill="#000"/>
<circle cx="548.37" cy="411.61" r="3.05" fill="#000"/>
<circle cx="555.52" cy="411.61" r="3.05" fill="#000"/>
<circle cx="562.32" cy="411.61" r="3.05" fill="#000"/>
<circle cx="538" cy="418.76" r="3.05" fill="#000"/>
<circle cx="545.15" cy="418.76" r="3.05" fill="#000"/>
<circle cx="551.95" cy="418.76" r="3.05" fill="#000"/>
<circle cx="545.15" cy="432.35" r="3.05" fill="#000"/>
<circle cx="545.15" cy="439.15" r="3.05" fill="#000"/>
<circle cx="609.89" cy="371.55" r="3.05" fill="#f0717f"/>
<circle cx="616.68" cy="371.55" r="3.05" fill="#f0717f"/>
<circle cx="609.89" cy="377.99" r="3.05" fill="#f0717f"/>
<circle cx="616.68" cy="377.99" r="3.05" fill="#f0717f"/>
<circle cx="613.46" cy="385.14" r="3.05" fill="#f0717f"/>
<circle cx="603.09" cy="398.73" r="3.05" fill="#f0717f"/>
<circle cx="609.89" cy="398.73" r="3.05" fill="#f0717f"/>
<circle cx="616.68" cy="398.73" r="3.05" fill="#f0717f"/>
<circle cx="623.83" cy="398.73" r="3.05" fill="#f0717f"/>
<circle cx="609.89" cy="405.53" r="3.05" fill="#f0717f"/>
<circle cx="616.68" cy="405.53" r="3.05" fill="#f0717f"/>
<circle cx="609.89" cy="411.97" r="3.05" fill="#f0717f"/>
<circle cx="616.68" cy="411.97" r="3.05" fill="#f0717f"/>
<circle cx="613.46" cy="432.35" r="3.05" fill="#f0717f"/>
<circle cx="609.89" cy="439.15" r="3.05" fill="#f0717f"/>
<circle cx="616.68" cy="439.15" r="3.05" fill="#f0717f"/>
<circle cx="609.89" cy="445.94" r="3.05" fill="#f0717f"/>
<circle cx="616.68" cy="445.94" r="3.05" fill="#f0717f"/>
<circle cx="606.31" cy="453.1" r="3.05" fill="#f0717f"/>
<circle cx="613.46" cy="453.1" r="3.05" fill="#f0717f"/>
<circle cx="620.26" cy="453.1" r="3.05" fill="#f0717f"/>
<circle cx="599.51" cy="459.89" r="3.05" fill="#f0717f"/>
<circle cx="606.31" cy="459.89" r="3.05" fill="#f0717f"/>
<circle cx="613.46" cy="459.89" r="3.05" fill="#f0717f"/>
<circle cx="620.26" cy="459.89" r="3.05" fill="#f0717f"/>
<circle cx="627.41" cy="459.89" r="3.05" fill="#f0717f"/>
<circle cx="606.31" cy="466.69" r="3.05" fill="#f0717f"/>
<circle cx="613.46" cy="466.69" r="3.05" fill="#f0717f"/>
<circle cx="620.26" cy="466.69" r="3.05" fill="#f0717f"/>
<path d="M510.1 304.95 V473.2 H648.2" fill="none" stroke="#000" stroke-width="1.75"/>
<path d="M505.5 473.2 H510.1" stroke="#000" stroke-width="1.75"/>
<text x="503.9" y="477.3" font-size="11.6" class="b" text-anchor="end" fill="#000">0.0</text>
<path d="M505.5 431.32 H510.1" stroke="#000" stroke-width="1.75"/>
<text x="503.9" y="435.43" font-size="11.6" class="b" text-anchor="end" fill="#000">0.5</text>
<path d="M505.5 389.45 H510.1" stroke="#000" stroke-width="1.75"/>
<text x="503.9" y="393.55" font-size="11.6" class="b" text-anchor="end" fill="#000">1.0</text>
<path d="M505.5 347.57 H510.1" stroke="#000" stroke-width="1.75"/>
<text x="503.9" y="351.68" font-size="11.6" class="b" text-anchor="end" fill="#000">1.5</text>
<path d="M505.5 305.7 H510.1" stroke="#000" stroke-width="1.75"/>
<text x="503.9" y="309.8" font-size="11.6" class="b" text-anchor="end" fill="#000">2.0</text>
<path d="M545.3 473.2 V477.8" stroke="#000" stroke-width="1.75"/>
<path d="M613.4 473.2 V477.8" stroke="#000" stroke-width="1.75"/>
<text x="475.6" y="390.2" font-size="13.8" class="b" text-anchor="middle" fill="#000" transform="rotate(-90 475.6 390.2)">Relative number of spikes</text>
<text x="548" y="489.6" font-size="11.85" class="b" text-anchor="end" fill="#000" transform="rotate(-34 548 489.6)">CTRL-IgG</text>
<text x="616.7" y="490.2" font-size="11.85" class="b" text-anchor="end" fill="#000" transform="rotate(-34 616.7 490.2)">Anti-NMDAR1-IgG</text>
<path d="M544.4 310.9 H622.6" stroke="#000" stroke-width="2"/>
<text x="584" y="305.8" font-size="19" text-anchor="middle" fill="#000" letter-spacing="1.7">***</text>
</g>
</g>
<g id="pc">
<text x="10" y="580.5" font-size="30.5" text-anchor="start" fill="#000" stroke="#000" stroke-width="0.7">c</text>
<text x="25.1" y="636" font-size="14.2" text-anchor="middle" fill="#000" transform="rotate(-90 25.1 636)">C-CSF-IgG</text>
<text x="25.1" y="762.9" font-size="14.2" text-anchor="middle" fill="#000" transform="rotate(-90 25.1 762.9)">P-CSF-IgG</text>
<text x="304" y="578.8" font-size="13.9" text-anchor="middle" fill="#000">C-CSF-IgG</text>
<text x="547.7" y="578.8" font-size="13.9" text-anchor="middle" fill="#000">P-CSF-IgG</text>
<g transform="translate(38.1 580.1)">
<clipPath id="cp3"><rect x="0" y="0" width="132.9" height="106.4"/></clipPath>
<g clip-path="url(#cp3)">
<rect x="0" y="0" width="132.9" height="106.4" fill="#b7b6aa"/>
<rect x="0" y="0" width="132.9" height="106.4" filter="url(#grain)" opacity="0.24" style="mix-blend-mode:overlay"/>
<path d="M1.4 25 Q6.5 10.5 21.5 -1.8" fill="none" stroke="#1a1610" stroke-width="6.3" filter="url(#bl05)"/>
<path d="M110 -4 C121 5 130 17 132.4 34 L133.0 78 C132.6 92 127 101 116 109" fill="none" stroke="#1a1610" stroke-width="5" filter="url(#bl05)"/>
<g transform="scale(0.21896) translate(-38 -38)">
<clipPath id="bc3"><path d="M210 130 C216.67 118.67 226.67 114 240 112 C253.33 110 275 114.17 290 118 C305 121.83 316.67 135.5 330 135 C343.33 134.5 355 117.83 370 115 C385 112.17 405.83 113 420 118 C434.17 123 447 133 455 145 C463 157 466.33 174.17 468 190 C469.67 205.83 464.67 223.33 465 240 C465.33 256.67 471.67 273.33 470 290 C468.33 306.67 461.67 325.83 455 340 C448.33 354.17 439.17 366.67 430 375 C420.83 383.33 413.33 386.17 400 390 C386.67 393.83 365 396.33 350 398 C335 399.67 318.33 394.67 310 400 C301.67 405.33 306.67 421.67 300 430 C293.33 438.33 279.17 448.33 270 450 C260.83 451.67 250.83 446.67 245 440 C239.17 433.33 242.5 418.33 235 410 C227.5 401.67 210 398.33 200 390 C190 381.67 181.67 371.67 175 360 C168.33 348.33 161.67 332.5 160 320 C158.33 307.5 161.67 295.83 165 285 C168.33 274.17 175 265.83 180 255 C185 244.17 191.67 232.5 195 220 C198.33 207.5 197.5 195 200 180 C202.5 165 203.33 141.33 210 130 Z"/></clipPath>
<path d="M210 130 C216.67 118.67 226.67 114 240 112 C253.33 110 275 114.17 290 118 C305 121.83 316.67 135.5 330 135 C343.33 134.5 355 117.83 370 115 C385 112.17 405.83 113 420 118 C434.17 123 447 133 455 145 C463 157 466.33 174.17 468 190 C469.67 205.83 464.67 223.33 465 240 C465.33 256.67 471.67 273.33 470 290 C468.33 306.67 461.67 325.83 455 340 C448.33 354.17 439.17 366.67 430 375 C420.83 383.33 413.33 386.17 400 390 C386.67 393.83 365 396.33 350 398 C335 399.67 318.33 394.67 310 400 C301.67 405.33 306.67 421.67 300 430 C293.33 438.33 279.17 448.33 270 450 C260.83 451.67 250.83 446.67 245 440 C239.17 433.33 242.5 418.33 235 410 C227.5 401.67 210 398.33 200 390 C190 381.67 181.67 371.67 175 360 C168.33 348.33 161.67 332.5 160 320 C158.33 307.5 161.67 295.83 165 285 C168.33 274.17 175 265.83 180 255 C185 244.17 191.67 232.5 195 220 C198.33 207.5 197.5 195 200 180 C202.5 165 203.33 141.33 210 130 Z" fill="#6a5a3c" opacity="0.93" filter="url(#zb5)"/>
<g clip-path="url(#bc3)"><path d="M210 130 C216.67 118.67 226.67 114 240 112 C253.33 110 275 114.17 290 118 C305 121.83 316.67 135.5 330 135 C343.33 134.5 355 117.83 370 115 C385 112.17 405.83 113 420 118 C434.17 123 447 133 455 145 C463 157 466.33 174.17 468 190 C469.67 205.83 464.67 223.33 465 240 C465.33 256.67 471.67 273.33 470 290 C468.33 306.67 461.67 325.83 455 340 C448.33 354.17 439.17 366.67 430 375 C420.83 383.33 413.33 386.17 400 390 C386.67 393.83 365 396.33 350 398 C335 399.67 318.33 394.67 310 400 C301.67 405.33 306.67 421.67 300 430 C293.33 438.33 279.17 448.33 270 450 C260.83 451.67 250.83 446.67 245 440 C239.17 433.33 242.5 418.33 235 410 C227.5 401.67 210 398.33 200 390 C190 381.67 181.67 371.67 175 360 C168.33 348.33 161.67 332.5 160 320 C158.33 307.5 161.67 295.83 165 285 C168.33 274.17 175 265.83 180 255 C185 244.17 191.67 232.5 195 220 C198.33 207.5 197.5 195 200 180 C202.5 165 203.33 141.33 210 130 Z" fill="#463822" opacity="0.55" filter="url(#zb12)"/></g>
<g clip-path="url(#bc3)"><path d="M230 150 C244.17 140 276.67 142.5 300 140 C323.33 137.5 346.67 131.67 370 135 C393.33 138.33 425.83 145.83 440 160 C454.17 174.17 452.5 198.33 455 220 C457.5 241.67 459.17 268.33 455 290 C450.83 311.67 442.5 335 430 350 C417.5 365 400 374.17 380 380 C360 385.83 331.67 386.67 310 385 C288.33 383.33 268.33 377.5 250 370 C231.67 362.5 210.83 351.67 200 340 C189.17 328.33 185 315 185 300 C185 285 195 266.67 200 250 C205 233.33 210 216.67 215 200 C220 183.33 215.83 160 230 150 Z" fill="#1d160c" opacity="0.92" filter="url(#zb28)"/></g>
</g>
<path d="M41.6 25.62 L35.91 32.19 L0 32.19 M41.6 44.23 L35.47 38.32 L0 38.32 M60 62.84 L54.74 57.37 L45.33 57.37 L32.19 44.45 L0 44.45 M41.6 62.84 L37.66 62.84 L25.62 50.8 L0 50.8 M78.83 62.84 L71.6 72.04 L35.47 72.04 L20.14 57.37 L0 57.37 M0 66.13 L10.29 66.13 L24.52 80.36 M60 81.45 L60 95.03 L49.05 105.98 M78.83 81.45 L78.83 95.03 L67.88 105.98 M0 78.17 L21.24 99.41 L24.52 106.63 M60 44.23 L49.7 34.38 L49.7 0 M60 25.62 L55.18 20.58 L55.18 0 M78.83 44.23 L69.85 35.47 L62.19 20.14 L62.19 0 M78.83 25.62 L67.22 13.58 L67.22 0 M97.66 25.62 L74.45 1.53 L73.13 0 M97.66 44.23 L106.63 35.47 L106.63 21.24 L85.83 0 M97.66 62.84 L112.55 48.17 L112.55 18.39 L94.15 0 M97.66 81.45 L118.68 60.87 L118.68 15.77 L102.26 0 " fill="none" stroke="#17130d" stroke-width="2.25" stroke-linejoin="round" filter="url(#bl05)"/>
<circle cx="41.6" cy="25.62" r="3.1" fill="#120f0b" filter="url(#bl05)"/>
<circle cx="60" cy="25.62" r="3.1" fill="#120f0b" filter="url(#bl05)"/>
<circle cx="78.83" cy="25.62" r="3.1" fill="#120f0b" filter="url(#bl05)"/>
<circle cx="97.66" cy="25.62" r="3.1" fill="#120f0b" filter="url(#bl05)"/>
<circle cx="41.6" cy="44.23" r="3.1" fill="#120f0b" filter="url(#bl05)"/>
<circle cx="60" cy="44.23" r="3.1" fill="#120f0b" filter="url(#bl05)"/>
<circle cx="78.83" cy="44.23" r="3.1" fill="#120f0b" filter="url(#bl05)"/>
<circle cx="97.66" cy="44.23" r="3.1" fill="#120f0b" filter="url(#bl05)"/>
<circle cx="41.6" cy="62.84" r="3.1" fill="#120f0b" filter="url(#bl05)"/>
<circle cx="60" cy="62.84" r="3.1" fill="#120f0b" filter="url(#bl05)"/>
<circle cx="78.83" cy="62.84" r="3.1" fill="#120f0b" filter="url(#bl05)"/>
<circle cx="97.66" cy="62.84" r="3.1" fill="#120f0b" filter="url(#bl05)"/>
<circle cx="60" cy="81.45" r="3.1" fill="#120f0b" filter="url(#bl05)"/>
<circle cx="78.83" cy="81.45" r="3.1" fill="#120f0b" filter="url(#bl05)"/>
<circle cx="97.66" cy="81.45" r="3.1" fill="#120f0b" filter="url(#bl05)"/>
<circle cx="34.38" cy="89.12" r="10.51" fill="#17130d" filter="url(#bl05)"/>
<text x="37.22" y="11.39" font-size="8.4" class="b" fill="#15120d" text-anchor="middle" transform="rotate(180 37.22 11.39)">44</text>
<text x="107.29" y="90.65" font-size="8.4" class="b" fill="#15120d" text-anchor="middle" transform="rotate(180 107.29 90.65)">11</text>
</g>
<rect x="118.24" y="98.97" width="10.4" height="3.5" fill="#fff"/>
</g>
<g transform="translate(38.1 712.9)">
<clipPath id="cp4"><rect x="0" y="0" width="132.9" height="106.7"/></clipPath>
<g clip-path="url(#cp4)">
<rect x="0" y="0" width="132.9" height="106.7" fill="#b4b3a7"/>
<rect x="0" y="0" width="132.9" height="106.7" filter="url(#grain)" opacity="0.24" style="mix-blend-mode:overlay"/>
<path d="M116.4 -3 C128.5 28 126.5 60 110 82 C92 101 52 104.8 20 104" fill="none" stroke="#1a1610" stroke-width="7.2" stroke-linecap="round" filter="url(#bl05)"/>
<circle cx="134" cy="96.5" r="6" fill="#15120d" filter="url(#bl05)"/>
<g transform="scale(0.21896) translate(-38 -48)">
<clipPath id="bc4"><path d="M300 112 C308 102.83 325 97.83 340 95 C355 92.17 373.33 92.83 390 95 C406.67 97.17 425 103 440 108 C455 113 468.33 118.83 480 125 C491.67 131.17 503.67 136.67 510 145 C516.33 153.33 512.17 165.83 518 175 C523.83 184.17 535.5 190.83 545 200 C554.5 209.17 567.83 219.17 575 230 C582.17 240.83 587.17 252.5 588 265 C588.83 277.5 584.67 294.17 580 305 C575.33 315.83 566.67 323.33 560 330 C553.33 336.67 545.83 337.5 540 345 C534.17 352.5 530.83 365.83 525 375 C519.17 384.17 512.5 393.83 505 400 C497.5 406.17 490 412 480 412 C470 412 456.67 402.33 445 400 C433.33 397.67 420 395.5 410 398 C400 400.5 390.83 407.17 385 415 C379.17 422.83 380 435 375 445 C370 455 364.17 469.5 355 475 C345.83 480.5 332.5 478.83 320 478 C307.5 477.17 291.67 471.33 280 470 C268.33 468.67 260 471.67 250 470 C240 468.33 231.67 463.33 220 460 C208.33 456.67 193.33 450.83 180 450 C166.67 449.17 153.33 455.83 140 455 C126.67 454.17 109.17 452.5 100 445 C90.83 437.5 86.67 424.17 85 410 C83.33 395.83 85.83 373.33 90 360 C94.17 346.67 100.83 339.17 110 330 C119.17 320.83 134.17 313.33 145 305 C155.83 296.67 166.67 289.17 175 280 C183.33 270.83 185.83 258.33 195 250 C204.17 241.67 218.33 235.83 230 230 C241.67 224.17 255.83 221.67 265 215 C274.17 208.33 280.5 200.83 285 190 C289.5 179.17 289.5 163 292 150 C294.5 137 292 121.17 300 112 Z"/></clipPath>
<path d="M300 112 C308 102.83 325 97.83 340 95 C355 92.17 373.33 92.83 390 95 C406.67 97.17 425 103 440 108 C455 113 468.33 118.83 480 125 C491.67 131.17 503.67 136.67 510 145 C516.33 153.33 512.17 165.83 518 175 C523.83 184.17 535.5 190.83 545 200 C554.5 209.17 567.83 219.17 575 230 C582.17 240.83 587.17 252.5 588 265 C588.83 277.5 584.67 294.17 580 305 C575.33 315.83 566.67 323.33 560 330 C553.33 336.67 545.83 337.5 540 345 C534.17 352.5 530.83 365.83 525 375 C519.17 384.17 512.5 393.83 505 400 C497.5 406.17 490 412 480 412 C470 412 456.67 402.33 445 400 C433.33 397.67 420 395.5 410 398 C400 400.5 390.83 407.17 385 415 C379.17 422.83 380 435 375 445 C370 455 364.17 469.5 355 475 C345.83 480.5 332.5 478.83 320 478 C307.5 477.17 291.67 471.33 280 470 C268.33 468.67 260 471.67 250 470 C240 468.33 231.67 463.33 220 460 C208.33 456.67 193.33 450.83 180 450 C166.67 449.17 153.33 455.83 140 455 C126.67 454.17 109.17 452.5 100 445 C90.83 437.5 86.67 424.17 85 410 C83.33 395.83 85.83 373.33 90 360 C94.17 346.67 100.83 339.17 110 330 C119.17 320.83 134.17 313.33 145 305 C155.83 296.67 166.67 289.17 175 280 C183.33 270.83 185.83 258.33 195 250 C204.17 241.67 218.33 235.83 230 230 C241.67 224.17 255.83 221.67 265 215 C274.17 208.33 280.5 200.83 285 190 C289.5 179.17 289.5 163 292 150 C294.5 137 292 121.17 300 112 Z" fill="#6f6248" opacity="0.92" filter="url(#zb5)"/>
<g clip-path="url(#bc4)"><path d="M300 112 C308 102.83 325 97.83 340 95 C355 92.17 373.33 92.83 390 95 C406.67 97.17 425 103 440 108 C455 113 468.33 118.83 480 125 C491.67 131.17 503.67 136.67 510 145 C516.33 153.33 512.17 165.83 518 175 C523.83 184.17 535.5 190.83 545 200 C554.5 209.17 567.83 219.17 575 230 C582.17 240.83 587.17 252.5 588 265 C588.83 277.5 584.67 294.17 580 305 C575.33 315.83 566.67 323.33 560 330 C553.33 336.67 545.83 337.5 540 345 C534.17 352.5 530.83 365.83 525 375 C519.17 384.17 512.5 393.83 505 400 C497.5 406.17 490 412 480 412 C470 412 456.67 402.33 445 400 C433.33 397.67 420 395.5 410 398 C400 400.5 390.83 407.17 385 415 C379.17 422.83 380 435 375 445 C370 455 364.17 469.5 355 475 C345.83 480.5 332.5 478.83 320 478 C307.5 477.17 291.67 471.33 280 470 C268.33 468.67 260 471.67 250 470 C240 468.33 231.67 463.33 220 460 C208.33 456.67 193.33 450.83 180 450 C166.67 449.17 153.33 455.83 140 455 C126.67 454.17 109.17 452.5 100 445 C90.83 437.5 86.67 424.17 85 410 C83.33 395.83 85.83 373.33 90 360 C94.17 346.67 100.83 339.17 110 330 C119.17 320.83 134.17 313.33 145 305 C155.83 296.67 166.67 289.17 175 280 C183.33 270.83 185.83 258.33 195 250 C204.17 241.67 218.33 235.83 230 230 C241.67 224.17 255.83 221.67 265 215 C274.17 208.33 280.5 200.83 285 190 C289.5 179.17 289.5 163 292 150 C294.5 137 292 121.17 300 112 Z" fill="#4c4029" opacity="0.5" filter="url(#zb12)"/></g>
<g clip-path="url(#bc4)"><path d="M400 270 C420 266.67 450 266.67 470 270 C490 273.33 508.33 281.67 520 290 C531.67 298.33 541.67 308.33 540 320 C538.33 331.67 521.67 348.33 510 360 C498.33 371.67 485 385.83 470 390 C455 394.17 435 383.33 420 385 C405 386.67 390 390.83 380 400 C370 409.17 370 430.83 360 440 C350 449.17 333.33 455 320 455 C306.67 455 290 449.17 280 440 C270 430.83 261.67 415 260 400 C258.33 385 261.67 365 270 350 C278.33 335 296.67 320 310 310 C323.33 300 335 296.67 350 290 C365 283.33 380 273.33 400 270 Z" fill="#221a0f" opacity="0.8" filter="url(#zb28)"/></g>
<g clip-path="url(#bc4)"><path d="M310 135 C317.5 125 340 120.83 360 120 C380 119.17 415 122.5 430 130 C445 137.5 451.67 154.17 450 165 C448.33 175.83 435 189.17 420 195 C405 200.83 377.5 202.5 360 200 C342.5 197.5 323.33 190.83 315 180 C306.67 169.17 302.5 145 310 135 Z" fill="#2a2012" opacity="0.7" filter="url(#zb28)"/></g>
<g clip-path="url(#bc4)"><path d="M350 222 C375 210 405 212 415 225 C405 238 370 240 350 232Z" fill="#ddd8c8" opacity="0.8" filter="url(#zb5)"/></g>
</g>
<path d="M24.09 8.76 L17.95 15.33 L0 15.33 M24.09 27.37 L17.95 21.9 L0 21.9 M42.92 46.42 L38.1 42.04 L31.09 42.04 L17.95 28.47 L0 28.47 M24.09 46.42 L20.14 46.42 L9.2 35.03 L0 35.03 M61.75 46.42 L54.08 55.18 L19.05 55.18 L5.91 42.04 L0 42.04 M0 51.89 L4.82 51.89 L11.82 59.12 M42.92 65.03 L42.92 81.02 L33.28 89.56 L12.48 89.56 L0 77.07 M61.75 65.03 L61.75 77.51 L45.98 93.93 L10.29 93.93 L0 83.64 M42.92 27.37 L32.19 16.86 L32.19 0 M42.92 8.76 L37.66 3.72 L37.66 0 M61.75 27.37 L54.74 22.33 L44.23 8.1 L44.23 0 M61.75 8.76 L52.99 0 M80.36 8.76 L71.6 0 M80.36 27.37 L89.56 17.95 L89.56 9.63 L79.7 0 M80.36 46.42 L95.03 32.19 L95.03 7.44 L88.02 0 M80.36 65.03 L100.5 45.33 L100.5 5.26 L95.03 0 " fill="none" stroke="#17130d" stroke-width="2.25" stroke-linejoin="round" filter="url(#bl05)"/>
<circle cx="24.09" cy="8.76" r="3.1" fill="#120f0b" filter="url(#bl05)"/>
<circle cx="42.92" cy="8.76" r="3.1" fill="#120f0b" filter="url(#bl05)"/>
<circle cx="61.75" cy="8.76" r="3.1" fill="#120f0b" filter="url(#bl05)"/>
<circle cx="80.36" cy="8.76" r="3.1" fill="#120f0b" filter="url(#bl05)"/>
<circle cx="24.09" cy="27.37" r="3.1" fill="#120f0b" filter="url(#bl05)"/>
<circle cx="42.92" cy="27.37" r="3.1" fill="#120f0b" filter="url(#bl05)"/>
<circle cx="61.75" cy="27.37" r="3.1" fill="#120f0b" filter="url(#bl05)"/>
<circle cx="80.36" cy="27.37" r="3.1" fill="#120f0b" filter="url(#bl05)"/>
<circle cx="24.09" cy="46.42" r="3.1" fill="#120f0b" filter="url(#bl05)"/>
<circle cx="42.92" cy="46.42" r="3.1" fill="#120f0b" filter="url(#bl05)"/>
<circle cx="61.75" cy="46.42" r="3.1" fill="#120f0b" filter="url(#bl05)"/>
<circle cx="80.36" cy="46.42" r="3.1" fill="#120f0b" filter="url(#bl05)"/>
<circle cx="42.92" cy="65.03" r="3.1" fill="#120f0b" filter="url(#bl05)"/>
<circle cx="61.75" cy="65.03" r="3.1" fill="#120f0b" filter="url(#bl05)"/>
<circle cx="80.36" cy="65.03" r="3.1" fill="#120f0b" filter="url(#bl05)"/>
<circle cx="17.52" cy="71.6" r="10.51" fill="#17130d" filter="url(#bl05)"/>
<text x="90.21" y="73.79" font-size="8.4" class="b" fill="#15120d" text-anchor="middle" transform="rotate(180 90.21 73.79)">11</text>
</g>
<rect x="118.24" y="99.41" width="10.4" height="3.5" fill="#fff"/>
</g>
<g>
<rect x="174" y="584.6" width="246.1" height="64.4" fill="#000"/>
<path d="M187.08 605.31 V629.98 M239.45 597.72 V635.67 M259.56 598.48 V638.71 M267.53 598.48 V635.67 M281.95 599.62 V631.88 M306.62 598.48 V636.43 M311.56 598.48 V631.88 M356.72 604.55 V624.29 M358.99 603.41 V626.19 M360.89 605.31 V623.53 M367.34 595.82 V640.23 M381.39 598.48 V633.78 M394.67 595.82 V637.57 M408.33 603.41 V628.08 M178.35 607.21 V624.29 " stroke="#36e81a" stroke-width="1.1" fill="none"/>
<path d="M174.8 611.7 L175.3 611.14 L175.8 611.59 L176.3 611.46 L176.8 611.58 L177.29 610.41 L177.79 610.78 L178.29 611.09 L178.79 611.64 L179.29 609.44 L179.79 611.51 L180.29 611.2 L180.79 611.49 L181.29 610.64 L181.79 609.38 L182.28 611.22 L182.78 609.82 L183.28 611.69 L183.78 609.71 L184.28 611.48 L184.78 610.19 L185.28 610.47 L185.78 611.68 L186.28 611.27 L186.78 610.46 L187.27 609.35 L187.77 609.23 L188.27 611.32 L188.77 610.53 L189.27 610.37 L189.77 611.52 L190.27 610.59 L190.77 611.64 L191.27 609.55 L191.77 609.23 L192.26 610.99 L192.76 611.02 L193.26 610.71 L193.76 611.64 L194.26 611.62 L194.76 611.27 L195.26 609.76 L195.76 610.88 L196.26 611.38 L196.76 610.56 L197.25 611.69 L197.75 611.59 L198.25 610.31 L198.75 610.06 L199.25 610.07 L199.75 611.24 L200.25 611.18 L200.75 611.54 L201.25 611.61 L201.74 611.68 L202.24 611.5 L202.74 609.88 L203.24 611.53 L203.74 610.3 L204.24 609.74 L204.74 610.81 L205.24 610.97 L205.74 610.96 L206.24 611.61 L206.73 610.14 L207.23 610.32 L207.73 611.56 L208.23 611.62 L208.73 611.59 L209.23 611.32 L209.73 610.25 L210.23 611.44 L210.73 610.17 L211.23 611.69 L211.72 609.61 L212.22 611.51 L212.72 611.2 L213.22 609.89 L213.72 611.51 L214.22 611.24 L214.72 611.19 L215.22 611.67 L215.72 610.52 L216.22 610.88 L216.71 611.38 L217.21 611.69 L217.71 611.34 L218.21 611.7 L218.71 611.17 L219.21 611.33 L219.71 610.66 L220.21 610.03 L220.71 610.58 L221.21 610.76 L221.7 611.64 L222.2 611.53 L222.7 610.76 L223.2 610.37 L223.7 609.74 L224.2 611.15 L224.7 610.73 L225.2 611.1 L225.7 611.44 L226.19 611.68 L226.69 610.34 L227.19 609.27 L227.69 611.67 L228.19 610.9 L228.69 611.59 L229.19 611.31 L229.69 611.1 L230.19 611.03 L230.69 611.69 L231.18 611.03 L231.68 610.93 L232.18 609.59 L232.68 610.2 L233.18 611.55 L233.68 609.74 L234.18 610.69 L234.68 611.29 L235.18 611.08 L235.68 610.34 L236.17 611.69 L236.67 611 L237.17 609.89 L237.67 609.55 L238.17 609.55 L238.67 610.72 L239.17 610.99 L239.67 610.64 L240.17 609.7 L240.67 611.17 L241.16 611.25 L241.66 611.07 L242.16 611.39 L242.66 610.38 L243.16 611.53 L243.66 611.41 L244.16 611.55 L244.66 611.63 L245.16 611.4 L245.66 611.05 L246.15 611.64 L246.65 610.76 L247.15 611.23 L247.65 610.92 L248.15 610.59 L248.65 609.78 L249.15 610.04 L249.65 610.26 L250.15 609.77 L250.64 610.74 L251.14 610.06 L251.64 610.75 L252.14 610.61 L252.64 609.75 L253.14 611.41 L253.64 610.56 L254.14 609.32 L254.64 610.78 L255.14 609.7 L255.63 610.99 L256.13 610.98 L256.63 609.67 L257.13 611.15 L257.63 609.87 L258.13 610.88 L258.63 611.53 L259.13 609.75 L259.63 610.26 L260.13 610.62 L260.62 609.74 L261.12 611.66 L261.62 610.49 L262.12 611.56 L262.62 609.91 L263.12 611.24 L263.62 611.66 L264.12 611.34 L264.62 611.34 L265.12 611.67 L265.61 610.84 L266.11 611.69 L266.61 611.59 L267.11 609.73 L267.61 609.59 L268.11 611.43 L268.61 610.58 L269.11 611.21 L269.61 610.23 L270.11 611.56 L270.6 611.7 L271.1 609.5 L271.6 611.58 L272.1 610.45 L272.6 609.53 L273.1 610.9 L273.6 611.57 L274.1 611.2 L274.6 610.46 L275.09 609.38 L275.59 610.96 L276.09 611.18 L276.59 610.69 L277.09 611.68 L277.59 611.26 L278.09 609.39 L278.59 611.66 L279.09 610.63 L279.59 610.03 L280.08 610.74 L280.58 611.69 L281.08 610.33 L281.58 609.42 L282.08 609.31 L282.58 611 L283.08 610.59 L283.58 610.34 L284.08 611.61 L284.58 610.59 L285.07 611.69 L285.57 610.3 L286.07 611.63 L286.57 611.13 L287.07 610.72 L287.57 609.38 L288.07 610.36 L288.57 609.46 L289.07 611.26 L289.57 610.58 L290.06 609.66 L290.56 611.42 L291.06 610.38 L291.56 611.33 L292.06 611.42 L292.56 610.09 L293.06 609.7 L293.56 610.7 L294.06 611.62 L294.56 611.65 L295.05 611.6 L295.55 609.84 L296.05 611.61 L296.55 609.89 L297.05 611.68 L297.55 611.04 L298.05 610.77 L298.55 611.47 L299.05 610.33 L299.54 610.82 L300.04 609.9 L300.54 609.85 L301.04 610.58 L301.54 611.48 L302.04 609.52 L302.54 610.59 L303.04 610.32 L303.54 610.64 L304.04 611.42 L304.53 609.97 L305.03 610.58 L305.53 611.23 L306.03 611.68 L306.53 609.55 L307.03 611.43 L307.53 610.14 L308.03 611.22 L308.53 611.53 L309.03 611.7 L309.52 610.39 L310.02 611.36 L310.52 610.25 L311.02 611.3 L311.52 610.51 L312.02 611.3 L312.52 611.42 L313.02 609.96 L313.52 609.93 L314.02 610.23 L314.51 611.69 L315.01 611.22 L315.51 611.26 L316.01 611.41 L316.51 611.04 L317.01 610.51 L317.51 610.7 L318.01 611.03 L318.51 611.66 L319.01 611.32 L319.5 611.19 L320 610.22 L320.5 610.28 L321 611.65 L321.5 611.32 L322 610.27 L322.5 610.56 L323 609.82 L323.5 609.85 L323.99 611.47 L324.49 611.52 L324.99 610.68 L325.49 610.91 L325.99 611.55 L326.49 610.75 L326.99 609.55 L327.49 609.26 L327.99 611.42 L328.49 611.7 L328.98 611.28 L329.48 609.8 L329.98 610.85 L330.48 610.47 L330.98 611.51 L331.48 611.69 L331.98 610.47 L332.48 611.03 L332.98 610.71 L333.48 610.74 L333.97 610.6 L334.47 611.66 L334.97 610.31 L335.47 609.54 L335.97 610.18 L336.47 611.63 L336.97 611.69 L337.47 610.03 L337.97 611.68 L338.47 609.31 L338.96 611.33 L339.46 611.2 L339.96 610.42 L340.46 610.94 L340.96 610.1 L341.46 609.84 L341.96 611.39 L342.46 609.61 L342.96 611.6 L343.46 610.88 L343.95 611.44 L344.45 610.09 L344.95 611.37 L345.45 611.42 L345.95 609.63 L346.45 611.68 L346.95 611.67 L347.45 611.22 L347.95 609.93 L348.44 610.14 L348.94 610.24 L349.44 611.22 L349.94 609.68 L350.44 611.15 L350.94 611.54 L351.44 611.41 L351.94 610.9 L352.44 611.57 L352.94 610.08 L353.43 611.6 L353.93 610.53 L354.43 611.7 L354.93 611.18 L355.43 610.49 L355.93 611.23 L356.43 611.68 L356.93 609.6 L357.43 611.23 L357.93 609.22 L358.42 609.75 L358.92 609.34 L359.42 609.32 L359.92 610.33 L360.42 610.65 L360.92 610.39 L361.42 610.47 L361.92 609.34 L362.42 611.22 L362.92 611.54 L363.41 609.28 L363.91 610.96 L364.41 609.96 L364.91 611.09 L365.41 611.45 L365.91 610.54 L366.41 611.6 L366.91 611.33 L367.41 611.42 L367.91 611.24 L368.4 609.86 L368.9 609.59 L369.4 609.74 L369.9 610.89 L370.4 611.21 L370.9 610.63 L371.4 611.64 L371.9 611.31 L372.4 609.55 L372.89 611.15 L373.39 609.3 L373.89 609.86 L374.39 610.18 L374.89 611.45 L375.39 611.16 L375.89 610.35 L376.39 610.77 L376.89 611.62 L377.39 610.61 L377.88 611.69 L378.38 610.49 L378.88 609.43 L379.38 610.2 L379.88 610.62 L380.38 611.11 L380.88 609.33 L381.38 610.74 L381.88 609.68 L382.38 610.01 L382.87 611.1 L383.37 611.35 L383.87 611.53 L384.37 609.24 L384.87 609.77 L385.37 609.44 L385.87 611.07 L386.37 611.28 L386.87 610.68 L387.37 609.36 L387.86 610.58 L388.36 609.21 L388.86 610.24 L389.36 611.17 L389.86 611.44 L390.36 610.67 L390.86 611.49 L391.36 611.24 L391.86 610.97 L392.36 611.28 L392.85 609.24 L393.35 610.55 L393.85 611.58 L394.35 611.58 L394.85 611.37 L395.35 609.64 L395.85 611.29 L396.35 609.4 L396.85 609.27 L397.34 610.73 L397.84 610.22 L398.34 611.62 L398.84 611.63 L399.34 610.89 L399.84 611.69 L400.34 609.32 L400.84 609.25 L401.34 611.62 L401.84 610.28 L402.33 611.1 L402.83 611.7 L403.33 611.57 L403.83 611.26 L404.33 609.59 L404.83 611.05 L405.33 611.05 L405.83 611.24 L406.33 609.55 L406.83 611.69 L407.32 610.29 L407.82 610.17 L408.32 611.68 L408.82 611.44 L409.32 611.52 L409.82 609.78 L410.32 610.48 L410.82 611.42 L411.32 609.4 L411.82 610.11 L412.31 611.7 L412.81 611.64 L413.31 611.32 L413.81 611.56 L414.31 611.1 L414.81 611.27 L415.31 611.33 L415.81 611.14 L416.31 609.67 L416.81 611.51 L417.3 611.58 L417.8 611.7 L418.3 609.49 L418.8 611.25 L419.3 611.54 L419.3 619.78 L418.8 617.91 L418.3 618.95 L417.8 618.23 L417.3 619.8 L416.81 618.75 L416.31 618.74 L415.81 619.19 L415.31 618.58 L414.81 618.08 L414.31 618.14 L413.81 618.72 L413.31 619.57 L412.81 619.04 L412.31 618.64 L411.82 617.94 L411.32 619.62 L410.82 617.93 L410.32 618.55 L409.82 619.17 L409.32 618.01 L408.82 619.16 L408.32 619.3 L407.82 620.16 L407.32 618.71 L406.83 618.4 L406.33 620.11 L405.83 618.95 L405.33 618.29 L404.83 619.69 L404.33 618.74 L403.83 618.32 L403.33 618.07 L402.83 619.9 L402.33 619.9 L401.84 619.65 L401.34 617.91 L400.84 618.68 L400.34 617.9 L399.84 619.65 L399.34 618.71 L398.84 619.56 L398.34 618.1 L397.84 619.78 L397.34 619.09 L396.85 618.28 L396.35 618.74 L395.85 618.65 L395.35 618.37 L394.85 618.83 L394.35 618.18 L393.85 618.1 L393.35 620.26 L392.85 620.11 L392.36 618.6 L391.86 617.91 L391.36 619.2 L390.86 618.45 L390.36 618.14 L389.86 619.7 L389.36 619.31 L388.86 619.41 L388.36 620.38 L387.86 618.55 L387.37 617.9 L386.87 618.52 L386.37 618.31 L385.87 618.42 L385.37 619.86 L384.87 618.56 L384.37 620.3 L383.87 619.32 L383.37 620.39 L382.87 618.86 L382.38 620.06 L381.88 618.17 L381.38 620.4 L380.88 617.91 L380.38 619.02 L379.88 619.26 L379.38 618.59 L378.88 618.01 L378.38 619.6 L377.88 618.09 L377.39 619.27 L376.89 618.58 L376.39 618.37 L375.89 620.36 L375.39 619.32 L374.89 618.44 L374.39 619.34 L373.89 618.98 L373.39 618.1 L372.89 617.94 L372.4 619.86 L371.9 619.71 L371.4 618.83 L370.9 620.2 L370.4 620.31 L369.9 620.16 L369.4 619.03 L368.9 618.78 L368.4 618.84 L367.91 617.93 L367.41 618.76 L366.91 618.77 L366.41 618.07 L365.91 619.82 L365.41 619.53 L364.91 618.81 L364.41 617.92 L363.91 619.97 L363.41 618.58 L362.92 618.13 L362.42 618.74 L361.92 619.13 L361.42 620.02 L360.92 619.66 L360.42 617.92 L359.92 619.33 L359.42 618.5 L358.92 620.01 L358.42 618.23 L357.93 618.27 L357.43 619.87 L356.93 620.17 L356.43 618.64 L355.93 618.75 L355.43 620.07 L354.93 618.21 L354.43 620.26 L353.93 619.05 L353.43 618 L352.94 619 L352.44 620.3 L351.94 618.01 L351.44 618.26 L350.94 618.62 L350.44 620.07 L349.94 617.92 L349.44 620.12 L348.94 617.9 L348.44 617.97 L347.95 617.92 L347.45 618.93 L346.95 618.07 L346.45 618.21 L345.95 618.81 L345.45 619.86 L344.95 620.04 L344.45 619.01 L343.95 619.37 L343.46 620.38 L342.96 618.81 L342.46 618.71 L341.96 620.19 L341.46 620.21 L340.96 619.17 L340.46 620.12 L339.96 617.91 L339.46 618.14 L338.96 618.68 L338.47 619.6 L337.97 618.71 L337.47 618.67 L336.97 618.07 L336.47 617.99 L335.97 618.73 L335.47 618.06 L334.97 618.75 L334.47 619.72 L333.97 618.09 L333.48 619.23 L332.98 619.83 L332.48 619.42 L331.98 619.56 L331.48 619.11 L330.98 618.24 L330.48 618.39 L329.98 619.38 L329.48 618.48 L328.98 619.41 L328.49 619.7 L327.99 618.07 L327.49 618.75 L326.99 618.52 L326.49 618.15 L325.99 620.29 L325.49 618.22 L324.99 620.38 L324.49 617.95 L323.99 617.95 L323.5 619.45 L323 617.97 L322.5 619.45 L322 618.66 L321.5 618.49 L321 618.95 L320.5 617.9 L320 618.46 L319.5 620.21 L319.01 620.09 L318.51 619.75 L318.01 618.9 L317.51 618.11 L317.01 619.73 L316.51 618.98 L316.01 620.19 L315.51 619.52 L315.01 619.42 L314.51 618.26 L314.02 619.88 L313.52 618.88 L313.02 619.96 L312.52 618.01 L312.02 619.33 L311.52 618.53 L311.02 617.96 L310.52 618.11 L310.02 619.89 L309.52 618.47 L309.03 619.94 L308.53 620.05 L308.03 618.96 L307.53 618.09 L307.03 618.72 L306.53 619.7 L306.03 618.39 L305.53 618.44 L305.03 618.47 L304.53 619.19 L304.04 618.35 L303.54 617.95 L303.04 618.46 L302.54 619.91 L302.04 618.92 L301.54 617.93 L301.04 618.17 L300.54 620.38 L300.04 619.3 L299.54 619.74 L299.05 618.13 L298.55 618.65 L298.05 619.95 L297.55 620.37 L297.05 618.04 L296.55 620.38 L296.05 619.54 L295.55 618.24 L295.05 618.42 L294.56 617.94 L294.06 618.88 L293.56 618.02 L293.06 617.92 L292.56 618.44 L292.06 619.34 L291.56 618.57 L291.06 618.69 L290.56 617.93 L290.06 617.98 L289.57 618.42 L289.07 620.2 L288.57 618.05 L288.07 619.56 L287.57 618.64 L287.07 618.59 L286.57 618.63 L286.07 620.01 L285.57 619.08 L285.07 620.16 L284.58 618.22 L284.08 619.18 L283.58 620.23 L283.08 618.46 L282.58 618.03 L282.08 618.22 L281.58 618.23 L281.08 620.31 L280.58 618.15 L280.08 619.54 L279.59 618.63 L279.09 619.25 L278.59 618.99 L278.09 618.65 L277.59 619.67 L277.09 618.63 L276.59 620.33 L276.09 618.56 L275.59 619.37 L275.09 620.28 L274.6 619.19 L274.1 618.14 L273.6 618.64 L273.1 618.35 L272.6 619.19 L272.1 617.97 L271.6 619.28 L271.1 618.91 L270.6 618.89 L270.11 618.2 L269.61 619.95 L269.11 618.51 L268.61 620.1 L268.11 619.9 L267.61 618.31 L267.11 619.33 L266.61 620.3 L266.11 617.94 L265.61 618.04 L265.12 618.49 L264.62 619.72 L264.12 617.92 L263.62 618.51 L263.12 618.06 L262.62 619.82 L262.12 617.96 L261.62 618.24 L261.12 620 L260.62 619.6 L260.13 618.36 L259.63 619.44 L259.13 618.04 L258.63 618 L258.13 619.2 L257.63 618.34 L257.13 620 L256.63 618.38 L256.13 618 L255.63 618.06 L255.14 618.01 L254.64 619.71 L254.14 618.66 L253.64 618.02 L253.14 617.94 L252.64 620.3 L252.14 618.84 L251.64 619.6 L251.14 618.2 L250.64 618.98 L250.15 619.95 L249.65 619.04 L249.15 617.98 L248.65 618.86 L248.15 618.29 L247.65 617.93 L247.15 619.29 L246.65 618.69 L246.15 619.65 L245.66 617.94 L245.16 619.58 L244.66 619.6 L244.16 619.49 L243.66 620.04 L243.16 618.13 L242.66 618.35 L242.16 618.57 L241.66 618.29 L241.16 620.24 L240.67 618.14 L240.17 617.99 L239.67 619.91 L239.17 618 L238.67 619.6 L238.17 618.54 L237.67 619.44 L237.17 619.43 L236.67 618.48 L236.17 619.41 L235.68 619.79 L235.18 620.18 L234.68 618.45 L234.18 620.05 L233.68 617.93 L233.18 617.95 L232.68 618.34 L232.18 619.75 L231.68 619.27 L231.18 618.67 L230.69 619.66 L230.19 618.01 L229.69 618.83 L229.19 617.92 L228.69 617.92 L228.19 620.39 L227.69 618.17 L227.19 619.64 L226.69 618.31 L226.19 620.22 L225.7 619.33 L225.2 619.73 L224.7 618.12 L224.2 619.24 L223.7 618.28 L223.2 618.78 L222.7 620.17 L222.2 618.42 L221.7 618.93 L221.21 618.3 L220.71 619.81 L220.21 618.14 L219.71 618.49 L219.21 620.06 L218.71 619.5 L218.21 617.9 L217.71 618.66 L217.21 618.68 L216.71 618.06 L216.22 620.15 L215.72 618.67 L215.22 618.17 L214.72 619.55 L214.22 619.31 L213.72 618.11 L213.22 618.44 L212.72 618.48 L212.22 619.7 L211.72 618.19 L211.23 619.05 L210.73 619.75 L210.23 619.58 L209.73 618.84 L209.23 618.54 L208.73 618.43 L208.23 618.54 L207.73 619.84 L207.23 618.95 L206.73 620.17 L206.24 619.59 L205.74 618 L205.24 619.37 L204.74 619.37 L204.24 618.48 L203.74 618.79 L203.24 618.61 L202.74 618.26 L202.24 618.08 L201.74 619.05 L201.25 619.88 L200.75 617.92 L200.25 618.23 L199.75 617.9 L199.25 620.34 L198.75 618.18 L198.25 620.29 L197.75 619.39 L197.25 617.98 L196.76 619.11 L196.26 618.41 L195.76 619.61 L195.26 618.66 L194.76 619.36 L194.26 618.08 L193.76 620.33 L193.26 617.98 L192.76 619.61 L192.26 619.65 L191.77 618.09 L191.27 619.15 L190.77 618.48 L190.27 619.3 L189.77 620.09 L189.27 617.96 L188.77 618.85 L188.27 618.06 L187.77 619.61 L187.27 620.31 L186.78 619.78 L186.28 618.47 L185.78 618.34 L185.28 618.12 L184.78 618.08 L184.28 619.64 L183.78 619.16 L183.28 619.43 L182.78 620.36 L182.28 618.1 L181.79 619.79 L181.29 618.85 L180.79 618.12 L180.29 620.22 L179.79 618.32 L179.29 618.48 L178.79 617.9 L178.29 620.39 L177.79 618.59 L177.29 618 L176.8 619.45 L176.3 619.5 L175.8 617.98 L175.3 619.26 L174.8 617.98Z" fill="#3df41c"/>
<path d="M174.8 614.8 H419.3" stroke="#58ff2c" stroke-width="4.5" opacity="0.8"/>
</g>
<g>
<rect x="425.1" y="584.6" width="245.9" height="64.4" fill="#000"/>
<path d="M468.58 609.11 V628.08 M479.96 606.83 V621.25 M481.48 605.31 V622.39 M483.38 606.83 V621.25 M502.35 597.72 V646.3 M513.36 603.41 V641.37 M583.19 607.21 V625.05 M609.75 596.96 V643.26 M661.75 605.31 V634.91 M545.24 608.35 V621.25 " stroke="#36e81a" stroke-width="1.1" fill="none"/>
<path d="M425.9 610.34 L426.4 610.54 L426.9 609.83 L427.4 610.5 L427.9 610.8 L428.4 610.34 L428.9 611.37 L429.4 610.17 L429.9 609.36 L430.4 609.81 L430.9 611.66 L431.4 611.21 L431.9 609.86 L432.39 610.48 L432.89 611.69 L433.39 611.49 L433.89 611.7 L434.39 609.55 L434.89 610.65 L435.39 611.23 L435.89 609.73 L436.39 609.6 L436.89 610.23 L437.39 610.85 L437.89 610.52 L438.39 610.23 L438.89 611.49 L439.39 611.68 L439.89 610.72 L440.39 610.45 L440.89 610.45 L441.39 611.69 L441.89 611.67 L442.39 610.86 L442.89 610.79 L443.39 610.66 L443.89 611.35 L444.38 610.3 L444.88 610.82 L445.38 611.7 L445.88 610.7 L446.38 610.11 L446.88 611.3 L447.38 609.33 L447.88 609.87 L448.38 609.6 L448.88 611.24 L449.38 609.51 L449.88 609.77 L450.38 611.51 L450.88 611.34 L451.38 611.4 L451.88 611.69 L452.38 611.02 L452.88 610.1 L453.38 609.34 L453.88 609.74 L454.38 609.77 L454.88 611.67 L455.38 610.54 L455.88 610.43 L456.38 611.65 L456.87 611.69 L457.37 611.68 L457.87 609.43 L458.37 611.65 L458.87 611.55 L459.37 610.36 L459.87 611.56 L460.37 611.3 L460.87 609.41 L461.37 611.63 L461.87 611.64 L462.37 611.21 L462.87 610.15 L463.37 610.45 L463.87 611.66 L464.37 609.4 L464.87 611.43 L465.37 611.67 L465.87 609.94 L466.37 609.83 L466.87 610.98 L467.37 610.49 L467.87 611.58 L468.37 611 L468.86 611.56 L469.36 610.64 L469.86 611.42 L470.36 611.57 L470.86 611.6 L471.36 609.78 L471.86 610.02 L472.36 610.83 L472.86 610.81 L473.36 611.42 L473.86 610.74 L474.36 610.9 L474.86 609.97 L475.36 609.8 L475.86 610.44 L476.36 610.64 L476.86 609.98 L477.36 611.47 L477.86 609.39 L478.36 610.73 L478.86 611.67 L479.36 611.05 L479.86 611.21 L480.36 609.78 L480.86 611.47 L481.35 609.42 L481.85 611.59 L482.35 610.87 L482.85 611.47 L483.35 609.72 L483.85 609.7 L484.35 611.69 L484.85 609.85 L485.35 610.88 L485.85 611.42 L486.35 610.49 L486.85 611.58 L487.35 611.65 L487.85 611.31 L488.35 610.99 L488.85 610.2 L489.35 610.05 L489.85 611.42 L490.35 609.99 L490.85 611.07 L491.35 611.21 L491.85 610.38 L492.35 609.52 L492.85 610.75 L493.34 609.64 L493.84 610.08 L494.34 611.62 L494.84 611.7 L495.34 611.55 L495.84 609.53 L496.34 610.71 L496.84 609.29 L497.34 611.55 L497.84 610.96 L498.34 611 L498.84 611.62 L499.34 611.61 L499.84 610.7 L500.34 611.57 L500.84 611.62 L501.34 609.33 L501.84 611.67 L502.34 611.26 L502.84 609.99 L503.34 611.36 L503.84 610.6 L504.34 611.57 L504.84 610.67 L505.33 611.66 L505.83 611.66 L506.33 611.39 L506.83 610.11 L507.33 611.36 L507.83 610.97 L508.33 609.23 L508.83 611.23 L509.33 611.01 L509.83 611.08 L510.33 611.56 L510.83 610.96 L511.33 610.99 L511.83 611.62 L512.33 610.62 L512.83 610.38 L513.33 610.02 L513.83 611.19 L514.33 611.56 L514.83 611.37 L515.33 609.87 L515.83 611.09 L516.33 610.73 L516.83 611.65 L517.33 611.59 L517.82 611.35 L518.32 611.35 L518.82 610.09 L519.32 609.97 L519.82 611.68 L520.32 610 L520.82 611.44 L521.32 611.49 L521.82 610.51 L522.32 611.43 L522.82 610.75 L523.32 611.26 L523.82 611.27 L524.32 611.3 L524.82 610.71 L525.32 609.39 L525.82 611.23 L526.32 611.6 L526.82 611.49 L527.32 611.42 L527.82 611.62 L528.32 610.5 L528.82 610.54 L529.32 609.37 L529.81 609.76 L530.31 610.24 L530.81 609.33 L531.31 611.64 L531.81 611.28 L532.31 610.5 L532.81 609.69 L533.31 611.19 L533.81 610.88 L534.31 610.56 L534.81 611.26 L535.31 611.15 L535.81 609.37 L536.31 611.22 L536.81 609.29 L537.31 609.82 L537.81 610.75 L538.31 610.87 L538.81 610.77 L539.31 611.18 L539.81 611.61 L540.31 611.18 L540.81 610.81 L541.31 611.28 L541.81 609.99 L542.3 610.52 L542.8 611.63 L543.3 609.62 L543.8 609.94 L544.3 610.19 L544.8 611.63 L545.3 610.19 L545.8 611 L546.3 609.59 L546.8 609.25 L547.3 611.23 L547.8 611.55 L548.3 611.51 L548.8 610.47 L549.3 611.08 L549.8 611.64 L550.3 609.21 L550.8 611.48 L551.3 611.44 L551.8 610.82 L552.3 611.28 L552.8 610.52 L553.3 610.03 L553.8 610.63 L554.29 609.48 L554.79 610.16 L555.29 609.36 L555.79 611.5 L556.29 609.71 L556.79 610.93 L557.29 610.84 L557.79 610.95 L558.29 611.55 L558.79 611.63 L559.29 611.64 L559.79 610.44 L560.29 610.63 L560.79 611.58 L561.29 611.69 L561.79 611.2 L562.29 611.68 L562.79 609.8 L563.29 609.78 L563.79 610.29 L564.29 609.4 L564.79 609.74 L565.29 610.28 L565.79 609.39 L566.29 611.44 L566.78 610.63 L567.28 610.77 L567.78 611.62 L568.28 611.38 L568.78 610.74 L569.28 611.25 L569.78 611.62 L570.28 609.27 L570.78 611.53 L571.28 611.34 L571.78 609.76 L572.28 611.69 L572.78 609.39 L573.28 611.28 L573.78 611.32 L574.28 611.27 L574.78 611.12 L575.28 611.7 L575.78 610.31 L576.28 611.41 L576.78 611.01 L577.28 610.41 L577.78 610.65 L578.28 610.1 L578.77 611.61 L579.27 610.52 L579.77 611.31 L580.27 611.21 L580.77 611.11 L581.27 611.24 L581.77 610.07 L582.27 610.63 L582.77 610.91 L583.27 610.83 L583.77 611.04 L584.27 610.59 L584.77 610.69 L585.27 611.32 L585.77 610.46 L586.27 611.34 L586.77 611.03 L587.27 609.92 L587.77 611.62 L588.27 611.26 L588.77 609.84 L589.27 610.69 L589.77 611.3 L590.27 610.24 L590.77 610.98 L591.26 609.9 L591.76 611.36 L592.26 611.31 L592.76 610.03 L593.26 611.65 L593.76 610.87 L594.26 609.81 L594.76 609.56 L595.26 610.99 L595.76 611.56 L596.26 611.28 L596.76 610.9 L597.26 609.61 L597.76 609.52 L598.26 610.97 L598.76 609.72 L599.26 611.24 L599.76 609.67 L600.26 611.52 L600.76 611.58 L601.26 610.58 L601.76 611.51 L602.26 610.6 L602.76 611.52 L603.25 609.37 L603.75 609.4 L604.25 611.16 L604.75 609.71 L605.25 609.22 L605.75 611.13 L606.25 609.93 L606.75 609.62 L607.25 609.51 L607.75 609.54 L608.25 611.63 L608.75 611.66 L609.25 610.85 L609.75 610.16 L610.25 611.7 L610.75 609.59 L611.25 611.54 L611.75 610.86 L612.25 609.31 L612.75 610.9 L613.25 610.17 L613.75 609.21 L614.25 611.09 L614.75 609.39 L615.24 610.77 L615.74 611.49 L616.24 611.35 L616.74 610.63 L617.24 611.56 L617.74 609.41 L618.24 609.87 L618.74 611.49 L619.24 609.9 L619.74 611.61 L620.24 611.49 L620.74 611.56 L621.24 610.55 L621.74 609.66 L622.24 609.45 L622.74 611.67 L623.24 610.94 L623.74 611.53 L624.24 610.87 L624.74 609.85 L625.24 609.67 L625.74 609.79 L626.24 611.53 L626.74 611.04 L627.24 610.98 L627.73 610.48 L628.23 611.34 L628.73 610.52 L629.23 611.64 L629.73 611.6 L630.23 610.46 L630.73 611.56 L631.23 610.43 L631.73 610.54 L632.23 611.39 L632.73 611.15 L633.23 611.42 L633.73 610.39 L634.23 611.41 L634.73 611.61 L635.23 611.07 L635.73 609.83 L636.23 610.34 L636.73 610.98 L637.23 611.38 L637.73 611 L638.23 610.66 L638.73 609.33 L639.23 611.5 L639.72 611.54 L640.22 611.45 L640.72 609.64 L641.22 610.05 L641.72 610.71 L642.22 610.7 L642.72 611.68 L643.22 611.38 L643.72 610.44 L644.22 610.41 L644.72 610.76 L645.22 611.65 L645.72 610.68 L646.22 610.29 L646.72 609.81 L647.22 611.64 L647.72 611.08 L648.22 611.53 L648.72 609.69 L649.22 610.16 L649.72 609.6 L650.22 611.64 L650.72 611.1 L651.22 610.84 L651.72 611.5 L652.21 610.35 L652.71 610.34 L653.21 610.28 L653.71 610.42 L654.21 610.97 L654.71 609.22 L655.21 609.52 L655.71 611.31 L656.21 610 L656.71 610.16 L657.21 609.39 L657.71 611.08 L658.21 611.06 L658.71 610.39 L659.21 610.97 L659.71 610.46 L660.21 611.4 L660.71 611.69 L661.21 611.23 L661.71 609.72 L662.21 611.66 L662.71 610.85 L663.21 609.29 L663.71 610.12 L664.2 611.62 L664.7 609.31 L665.2 610.61 L665.7 610.24 L666.2 610.39 L666.7 611.7 L667.2 611.38 L667.7 609.26 L668.2 611.46 L668.7 610.71 L669.2 611.65 L669.7 609.32 L670.2 610.44 L670.2 619.94 L669.7 618.22 L669.2 618.38 L668.7 619.14 L668.2 619.06 L667.7 618.61 L667.2 618 L666.7 619.25 L666.2 619.71 L665.7 618.48 L665.2 618.98 L664.7 619.78 L664.2 620.16 L663.71 619.62 L663.21 618.84 L662.71 618.49 L662.21 617.95 L661.71 618.03 L661.21 619.44 L660.71 620.01 L660.21 619.67 L659.71 618.57 L659.21 619.06 L658.71 618.6 L658.21 617.99 L657.71 619.49 L657.21 620.07 L656.71 618.03 L656.21 618.23 L655.71 618.19 L655.21 618.18 L654.71 618.86 L654.21 617.93 L653.71 618.19 L653.21 619.55 L652.71 618.5 L652.21 617.9 L651.72 619.44 L651.22 619.07 L650.72 618.16 L650.22 617.9 L649.72 619.93 L649.22 620.03 L648.72 619.85 L648.22 618.39 L647.72 618.89 L647.22 620.2 L646.72 618.7 L646.22 617.96 L645.72 620.39 L645.22 618.06 L644.72 618.2 L644.22 619.63 L643.72 619.39 L643.22 620.35 L642.72 618.06 L642.22 619.27 L641.72 620.16 L641.22 620.39 L640.72 618.53 L640.22 619.14 L639.72 618.03 L639.23 619.79 L638.73 619.72 L638.23 618.66 L637.73 618.26 L637.23 618.59 L636.73 619.3 L636.23 618.35 L635.73 619.94 L635.23 619.7 L634.73 619.32 L634.23 617.94 L633.73 618.86 L633.23 618.64 L632.73 617.98 L632.23 619.82 L631.73 617.91 L631.23 619.1 L630.73 619.65 L630.23 618.25 L629.73 618.74 L629.23 618.22 L628.73 618.24 L628.23 619.52 L627.73 618.45 L627.24 619 L626.74 619.89 L626.24 619.82 L625.74 618.4 L625.24 618.33 L624.74 617.91 L624.24 619.79 L623.74 618.16 L623.24 618.96 L622.74 618.12 L622.24 618.31 L621.74 617.91 L621.24 619.5 L620.74 618.11 L620.24 618.26 L619.74 618.96 L619.24 618.19 L618.74 618.66 L618.24 618.93 L617.74 620.01 L617.24 618.97 L616.74 617.94 L616.24 620.16 L615.74 618.04 L615.24 618.08 L614.75 619.96 L614.25 619.42 L613.75 619.36 L613.25 619.17 L612.75 617.97 L612.25 619.69 L611.75 618.77 L611.25 619.05 L610.75 618.56 L610.25 620.24 L609.75 620.05 L609.25 619.66 L608.75 618.82 L608.25 619.88 L607.75 618.96 L607.25 619.61 L606.75 618.36 L606.25 619.78 L605.75 619.19 L605.25 618.03 L604.75 619.21 L604.25 619.56 L603.75 618.03 L603.25 619.74 L602.76 620.12 L602.26 619.04 L601.76 619.76 L601.26 617.98 L600.76 620.14 L600.26 619.24 L599.76 619.92 L599.26 617.95 L598.76 618.09 L598.26 618.05 L597.76 618.03 L597.26 618.14 L596.76 618.98 L596.26 617.97 L595.76 618.52 L595.26 618.05 L594.76 618.36 L594.26 619.93 L593.76 618.67 L593.26 618.1 L592.76 617.96 L592.26 618.1 L591.76 619.86 L591.26 619.22 L590.77 617.95 L590.27 618.85 L589.77 618.21 L589.27 619.96 L588.77 619.04 L588.27 618.2 L587.77 618.01 L587.27 618.13 L586.77 617.97 L586.27 618.24 L585.77 619.24 L585.27 619.85 L584.77 618.05 L584.27 618.46 L583.77 617.93 L583.27 618.04 L582.77 620.11 L582.27 620.16 L581.77 618.09 L581.27 617.9 L580.77 617.93 L580.27 620.2 L579.77 617.96 L579.27 618.33 L578.77 618.48 L578.28 619.94 L577.78 619.93 L577.28 618.25 L576.78 618.29 L576.28 618.51 L575.78 617.91 L575.28 617.9 L574.78 620.01 L574.28 618.17 L573.78 620.1 L573.28 618.05 L572.78 618.5 L572.28 619.16 L571.78 619.62 L571.28 618.66 L570.78 618.49 L570.28 619.32 L569.78 618.11 L569.28 619.08 L568.78 618.55 L568.28 618.71 L567.78 618.09 L567.28 619.39 L566.78 618.92 L566.29 619.27 L565.79 617.9 L565.29 620.38 L564.79 619.47 L564.29 617.99 L563.79 618.87 L563.29 618.94 L562.79 618.07 L562.29 620.26 L561.79 618.78 L561.29 618.83 L560.79 618.43 L560.29 619.32 L559.79 619.81 L559.29 618.72 L558.79 618.65 L558.29 619.34 L557.79 618.51 L557.29 619.94 L556.79 619.15 L556.29 619.25 L555.79 618.37 L555.29 617.91 L554.79 619.77 L554.29 617.94 L553.8 618.58 L553.3 618.52 L552.8 618.1 L552.3 618.5 L551.8 617.9 L551.3 619.88 L550.8 618.6 L550.3 617.98 L549.8 619.25 L549.3 620.32 L548.8 619.75 L548.3 618.22 L547.8 618.54 L547.3 618.77 L546.8 620.36 L546.3 618.16 L545.8 619.91 L545.3 618.28 L544.8 619.53 L544.3 617.94 L543.8 619.08 L543.3 619.18 L542.8 618.38 L542.3 619.95 L541.81 618.74 L541.31 618.34 L540.81 619.28 L540.31 620.29 L539.81 619.19 L539.31 619.23 L538.81 620.33 L538.31 617.91 L537.81 619.45 L537.31 619.96 L536.81 620.2 L536.31 618.19 L535.81 619.24 L535.31 619.61 L534.81 618.7 L534.31 618.97 L533.81 619.33 L533.31 618.75 L532.81 619.6 L532.31 619.72 L531.81 619.4 L531.31 618.77 L530.81 618.41 L530.31 618.01 L529.81 619.06 L529.32 618.12 L528.82 619.9 L528.32 618.62 L527.82 619.3 L527.32 618.25 L526.82 619.07 L526.32 618.19 L525.82 620.22 L525.32 620.18 L524.82 620.03 L524.32 618.16 L523.82 618.69 L523.32 618.53 L522.82 619.56 L522.32 618.47 L521.82 618.92 L521.32 620.38 L520.82 618.61 L520.32 617.98 L519.82 619.74 L519.32 618.9 L518.82 619.67 L518.32 618.35 L517.82 618.07 L517.33 618.52 L516.83 617.92 L516.33 618.44 L515.83 619.24 L515.33 619.9 L514.83 618.59 L514.33 619 L513.83 619.07 L513.33 620.12 L512.83 618.3 L512.33 618.28 L511.83 617.9 L511.33 618.06 L510.83 618.6 L510.33 619.71 L509.83 617.98 L509.33 618.19 L508.83 619.46 L508.33 618.35 L507.83 618.5 L507.33 618.91 L506.83 618.41 L506.33 619.71 L505.83 619.8 L505.33 619.36 L504.84 618.64 L504.34 620.28 L503.84 620.28 L503.34 618.3 L502.84 618.12 L502.34 618.92 L501.84 620.33 L501.34 619.42 L500.84 618.15 L500.34 618.43 L499.84 619.61 L499.34 618.45 L498.84 619.01 L498.34 618.03 L497.84 618.77 L497.34 619.13 L496.84 618.71 L496.34 618.24 L495.84 618.1 L495.34 619.32 L494.84 618.74 L494.34 618.96 L493.84 619.37 L493.34 619.66 L492.85 620.23 L492.35 619.56 L491.85 617.93 L491.35 619.97 L490.85 620 L490.35 619.78 L489.85 619.18 L489.35 619.86 L488.85 619.71 L488.35 618.37 L487.85 618.09 L487.35 618.03 L486.85 619.62 L486.35 619.17 L485.85 618.36 L485.35 619.64 L484.85 617.91 L484.35 618.22 L483.85 619.17 L483.35 619.96 L482.85 617.98 L482.35 617.93 L481.85 617.96 L481.35 619.31 L480.86 618.56 L480.36 618.17 L479.86 618.01 L479.36 619.13 L478.86 618.72 L478.36 618.81 L477.86 619.17 L477.36 618.72 L476.86 619.05 L476.36 617.93 L475.86 619.03 L475.36 618.99 L474.86 618.47 L474.36 618.23 L473.86 618.16 L473.36 620.08 L472.86 618.17 L472.36 618.01 L471.86 617.94 L471.36 618.92 L470.86 619.15 L470.36 618.02 L469.86 618.67 L469.36 619.28 L468.86 619.59 L468.37 618.16 L467.87 618.71 L467.37 620.31 L466.87 618.82 L466.37 618.95 L465.87 620.19 L465.37 619.72 L464.87 619.23 L464.37 618.13 L463.87 618.85 L463.37 619.59 L462.87 618.33 L462.37 617.9 L461.87 620.26 L461.37 618.67 L460.87 619.07 L460.37 617.94 L459.87 618.14 L459.37 620.18 L458.87 619.34 L458.37 619.44 L457.87 618.99 L457.37 619.42 L456.87 618.01 L456.38 619.16 L455.88 618.93 L455.38 620.28 L454.88 618.59 L454.38 618.69 L453.88 620.14 L453.38 619.9 L452.88 619.06 L452.38 618.33 L451.88 618.98 L451.38 618.77 L450.88 617.9 L450.38 620.27 L449.88 619.23 L449.38 617.92 L448.88 618.86 L448.38 619.32 L447.88 619.33 L447.38 617.92 L446.88 618.08 L446.38 618.48 L445.88 617.92 L445.38 618.22 L444.88 620.07 L444.38 618.55 L443.89 618.11 L443.39 618.84 L442.89 618.66 L442.39 618.16 L441.89 618.03 L441.39 620.4 L440.89 618.35 L440.39 617.95 L439.89 617.9 L439.39 618.59 L438.89 619.06 L438.39 618.68 L437.89 618.23 L437.39 620.07 L436.89 619.31 L436.39 618.12 L435.89 619.4 L435.39 618.03 L434.89 617.91 L434.39 617.93 L433.89 619.17 L433.39 618.52 L432.89 618.8 L432.39 618.93 L431.9 618.9 L431.4 619.33 L430.9 618.24 L430.4 617.95 L429.9 620.29 L429.4 618.58 L428.9 618.43 L428.4 619.01 L427.9 617.97 L427.4 618.41 L426.9 618.76 L426.4 619.8 L425.9 617.95Z" fill="#3df41c"/>
<path d="M425.9 614.8 H670.2" stroke="#58ff2c" stroke-width="4.5" opacity="0.8"/>
</g>
<g>
<path d="M223.8 675.55 V802.9 H413.6" fill="none" stroke="#000" stroke-width="1.5"/>
<path d="M220.2 802.9 H223.8" stroke="#000" stroke-width="1.5"/>
<text x="218.6" y="805.97" font-size="8.9" class="b" text-anchor="end" fill="#000">0</text>
<path d="M220.2 760.7 H223.8" stroke="#000" stroke-width="1.5"/>
<text x="218.6" y="763.77" font-size="8.9" class="b" text-anchor="end" fill="#000">1</text>
<path d="M220.2 718.5 H223.8" stroke="#000" stroke-width="1.5"/>
<text x="218.6" y="721.57" font-size="8.9" class="b" text-anchor="end" fill="#000">2</text>
<path d="M220.2 676.3 H223.8" stroke="#000" stroke-width="1.5"/>
<text x="218.6" y="679.37" font-size="8.9" class="b" text-anchor="end" fill="#000">3</text>
<path d="M247.9 802.9 V806.5" stroke="#000" stroke-width="1.5"/>
<text x="250.85" y="813.6" font-size="9" class="b" text-anchor="end" fill="#000" transform="rotate(-45 250.85 813.6)">0 h</text>
<path d="M295.4 802.9 V806.5" stroke="#000" stroke-width="1.5"/>
<text x="298.35" y="813.6" font-size="9" class="b" text-anchor="end" fill="#000" transform="rotate(-45 298.35 813.6)">12 h</text>
<path d="M343.1 802.9 V806.5" stroke="#000" stroke-width="1.5"/>
<text x="346.05" y="813.6" font-size="9" class="b" text-anchor="end" fill="#000" transform="rotate(-45 346.05 813.6)">24 h</text>
<path d="M391.4 802.9 V806.5" stroke="#000" stroke-width="1.5"/>
<text x="394.35" y="813.6" font-size="9" class="b" text-anchor="end" fill="#000" transform="rotate(-45 394.35 813.6)">48 h</text>
<text x="195.2" y="738.2" font-size="10.4" class="b" text-anchor="middle" fill="#000" transform="rotate(-90 195.2 738.2)">Relative number of spikes</text>
<text x="208.6" y="738.2" font-size="10.4" class="b" text-anchor="middle" fill="#000" transform="rotate(-90 208.6 738.2)">(Fold of baseline)</text>
<path d="M247.9 760.7 L295.4 747.8 L343.1 737.8 L391.4 718.7" fill="none" stroke="#000" stroke-width="1.55"/>
<circle cx="247.9" cy="760.7" r="2.7" fill="#000"/>
<path d="M295.4 738.8 V757.3 M292.45 738.8 H298.35 M292.45 757.3 H298.35" fill="none" stroke="#000" stroke-width="1.9"/>
<circle cx="295.4" cy="747.8" r="2.7" fill="#000"/>
<path d="M343.1 725.3 V750.3 M340.15 725.3 H346.05 M340.15 750.3 H346.05" fill="none" stroke="#000" stroke-width="1.9"/>
<circle cx="343.1" cy="737.8" r="2.7" fill="#000"/>
<path d="M391.4 696.3 V741.2 M388.45 696.3 H394.35 M388.45 741.2 H394.35" fill="none" stroke="#000" stroke-width="1.9"/>
<circle cx="391.4" cy="718.7" r="2.7" fill="#000"/>
<path d="M247.9 760.7 L295.4 775.5 L343.1 773 L391.4 774.7" fill="none" stroke="#f2b06e" stroke-width="1.55"/>
<rect x="245.2" y="758" width="5.4" height="5.4" fill="#f2b06e"/>
<path d="M295.4 767.5 V783 M292.45 767.5 H298.35 M292.45 783 H298.35" fill="none" stroke="#f2b06e" stroke-width="1.9"/>
<rect x="292.7" y="772.8" width="5.4" height="5.4" fill="#f2b06e"/>
<path d="M343.1 764.5 V781.5 M340.15 764.5 H346.05 M340.15 781.5 H346.05" fill="none" stroke="#f2b06e" stroke-width="1.9"/>
<rect x="340.4" y="770.3" width="5.4" height="5.4" fill="#f2b06e"/>
<path d="M391.4 767.2 V782.2 M388.45 767.2 H394.35 M388.45 782.2 H394.35" fill="none" stroke="#f2b06e" stroke-width="1.9"/>
<rect x="388.7" y="772" width="5.4" height="5.4" fill="#f2b06e"/>
<path d="M288.5 658.7 H302.3" stroke="#000" stroke-width="1.55"/>
<circle cx="295.4" cy="658.7" r="2.7" fill="#000"/>
<text x="309.5" y="662.4" font-size="10.4" class="b" text-anchor="start" fill="#000">C-CSF-IgG</text>
<path d="M288.5 673.7 H302.3" stroke="#f2b06e" stroke-width="1.55"/>
<rect x="292.7" y="671" width="5.4" height="5.4" fill="#f2b06e"/>
<text x="309.5" y="677.4" font-size="10.4" class="b" text-anchor="start" fill="#000">P-CSF-IgG</text>
<text x="295.4" y="729" font-size="10" text-anchor="middle" fill="#1c1c28">NS</text>
<text x="345" y="715.6" font-size="10.6" text-anchor="middle" fill="#f2b06e">P=0.09</text>
<text x="392.2" y="695.7" font-size="13.8" text-anchor="middle" fill="#f2b06e" letter-spacing="1.1">**</text>
</g>
<g>
<path d="M470.3 675.75 V802.8 H661.5" fill="none" stroke="#000" stroke-width="1.5"/>
<path d="M466.7 802.8 H470.3" stroke="#000" stroke-width="1.5"/>
<text x="465.1" y="805.87" font-size="8.9" class="b" text-anchor="end" fill="#000">0</text>
<path d="M466.7 760.7 H470.3" stroke="#000" stroke-width="1.5"/>
<text x="465.1" y="763.77" font-size="8.9" class="b" text-anchor="end" fill="#000">1</text>
<path d="M466.7 718.6 H470.3" stroke="#000" stroke-width="1.5"/>
<text x="465.1" y="721.67" font-size="8.9" class="b" text-anchor="end" fill="#000">2</text>
<path d="M466.7 676.5 H470.3" stroke="#000" stroke-width="1.5"/>
<text x="465.1" y="679.57" font-size="8.9" class="b" text-anchor="end" fill="#000">3</text>
<path d="M494.3 802.8 V806.4" stroke="#000" stroke-width="1.5"/>
<text x="497.25" y="813.5" font-size="9" class="b" text-anchor="end" fill="#000" transform="rotate(-45 497.25 813.5)">0 h</text>
<path d="M541.7 802.8 V806.4" stroke="#000" stroke-width="1.5"/>
<text x="544.65" y="813.5" font-size="9" class="b" text-anchor="end" fill="#000" transform="rotate(-45 544.65 813.5)">12 h</text>
<path d="M589.1 802.8 V806.4" stroke="#000" stroke-width="1.5"/>
<text x="592.05" y="813.5" font-size="9" class="b" text-anchor="end" fill="#000" transform="rotate(-45 592.05 813.5)">24 h</text>
<path d="M637.6 802.8 V806.4" stroke="#000" stroke-width="1.5"/>
<text x="640.55" y="813.5" font-size="9" class="b" text-anchor="end" fill="#000" transform="rotate(-45 640.55 813.5)">48 h</text>
<text x="441" y="738.4" font-size="10.4" class="b" text-anchor="middle" fill="#000" transform="rotate(-90 441 738.4)">Relative weighted mean firing rate</text>
<text x="454.8" y="738.4" font-size="10.4" class="b" text-anchor="middle" fill="#000" transform="rotate(-90 454.8 738.4)">(Fold of baseline)</text>
<path d="M494.3 760.7 L541.7 766.2 L589.1 758.7 L637.6 745.2" fill="none" stroke="#000" stroke-width="1.55"/>
<circle cx="494.3" cy="760.7" r="2.7" fill="#000"/>
<path d="M541.7 760.2 V772.7 M538.75 760.2 H544.65 M538.75 772.7 H544.65" fill="none" stroke="#000" stroke-width="1.9"/>
<circle cx="541.7" cy="766.2" r="2.7" fill="#000"/>
<path d="M589.1 751.7 V766.2 M586.15 751.7 H592.05 M586.15 766.2 H592.05" fill="none" stroke="#000" stroke-width="1.9"/>
<circle cx="589.1" cy="758.7" r="2.7" fill="#000"/>
<path d="M637.6 734.2 V756.2 M634.65 734.2 H640.55 M634.65 756.2 H640.55" fill="none" stroke="#000" stroke-width="1.9"/>
<circle cx="637.6" cy="745.2" r="2.7" fill="#000"/>
<path d="M494.3 760.7 L541.7 773.9 L589.1 769.4 L637.6 776.4" fill="none" stroke="#f2b06e" stroke-width="1.55"/>
<rect x="491.6" y="758" width="5.4" height="5.4" fill="#f2b06e"/>
<path d="M541.7 767.9 V780.4 M538.75 767.9 H544.65 M538.75 780.4 H544.65" fill="none" stroke="#f2b06e" stroke-width="1.9"/>
<rect x="539" y="771.2" width="5.4" height="5.4" fill="#f2b06e"/>
<path d="M589.1 761.4 V777.9 M586.15 761.4 H592.05 M586.15 777.9 H592.05" fill="none" stroke="#f2b06e" stroke-width="1.9"/>
<rect x="586.4" y="766.7" width="5.4" height="5.4" fill="#f2b06e"/>
<path d="M637.6 770.4 V782.9 M634.65 770.4 H640.55 M634.65 782.9 H640.55" fill="none" stroke="#f2b06e" stroke-width="1.9"/>
<rect x="634.9" y="773.7" width="5.4" height="5.4" fill="#f2b06e"/>
<path d="M534.2 658.8 H548.2" stroke="#000" stroke-width="1.55"/>
<circle cx="541.2" cy="658.8" r="2.7" fill="#000"/>
<text x="555.2" y="662.5" font-size="10.4" class="b" text-anchor="start" fill="#000">C-CSF-IgG</text>
<path d="M534.2 673.4 H548.2" stroke="#f2b06e" stroke-width="1.55"/>
<rect x="538.5" y="670.7" width="5.4" height="5.4" fill="#f2b06e"/>
<text x="555.2" y="677.1" font-size="10.4" class="b" text-anchor="start" fill="#000">P-CSF-IgG</text>
<text x="542.7" y="749.6" font-size="10" text-anchor="middle" fill="#1c1c28">NS</text>
<text x="589.1" y="743.5" font-size="10" text-anchor="middle" fill="#1c1c28">NS</text>
<text x="637.5" y="730.4" font-size="13.8" text-anchor="middle" fill="#f2b06e" letter-spacing="1.1">**</text>
</g>
</g>
</svg>
</body></html>
